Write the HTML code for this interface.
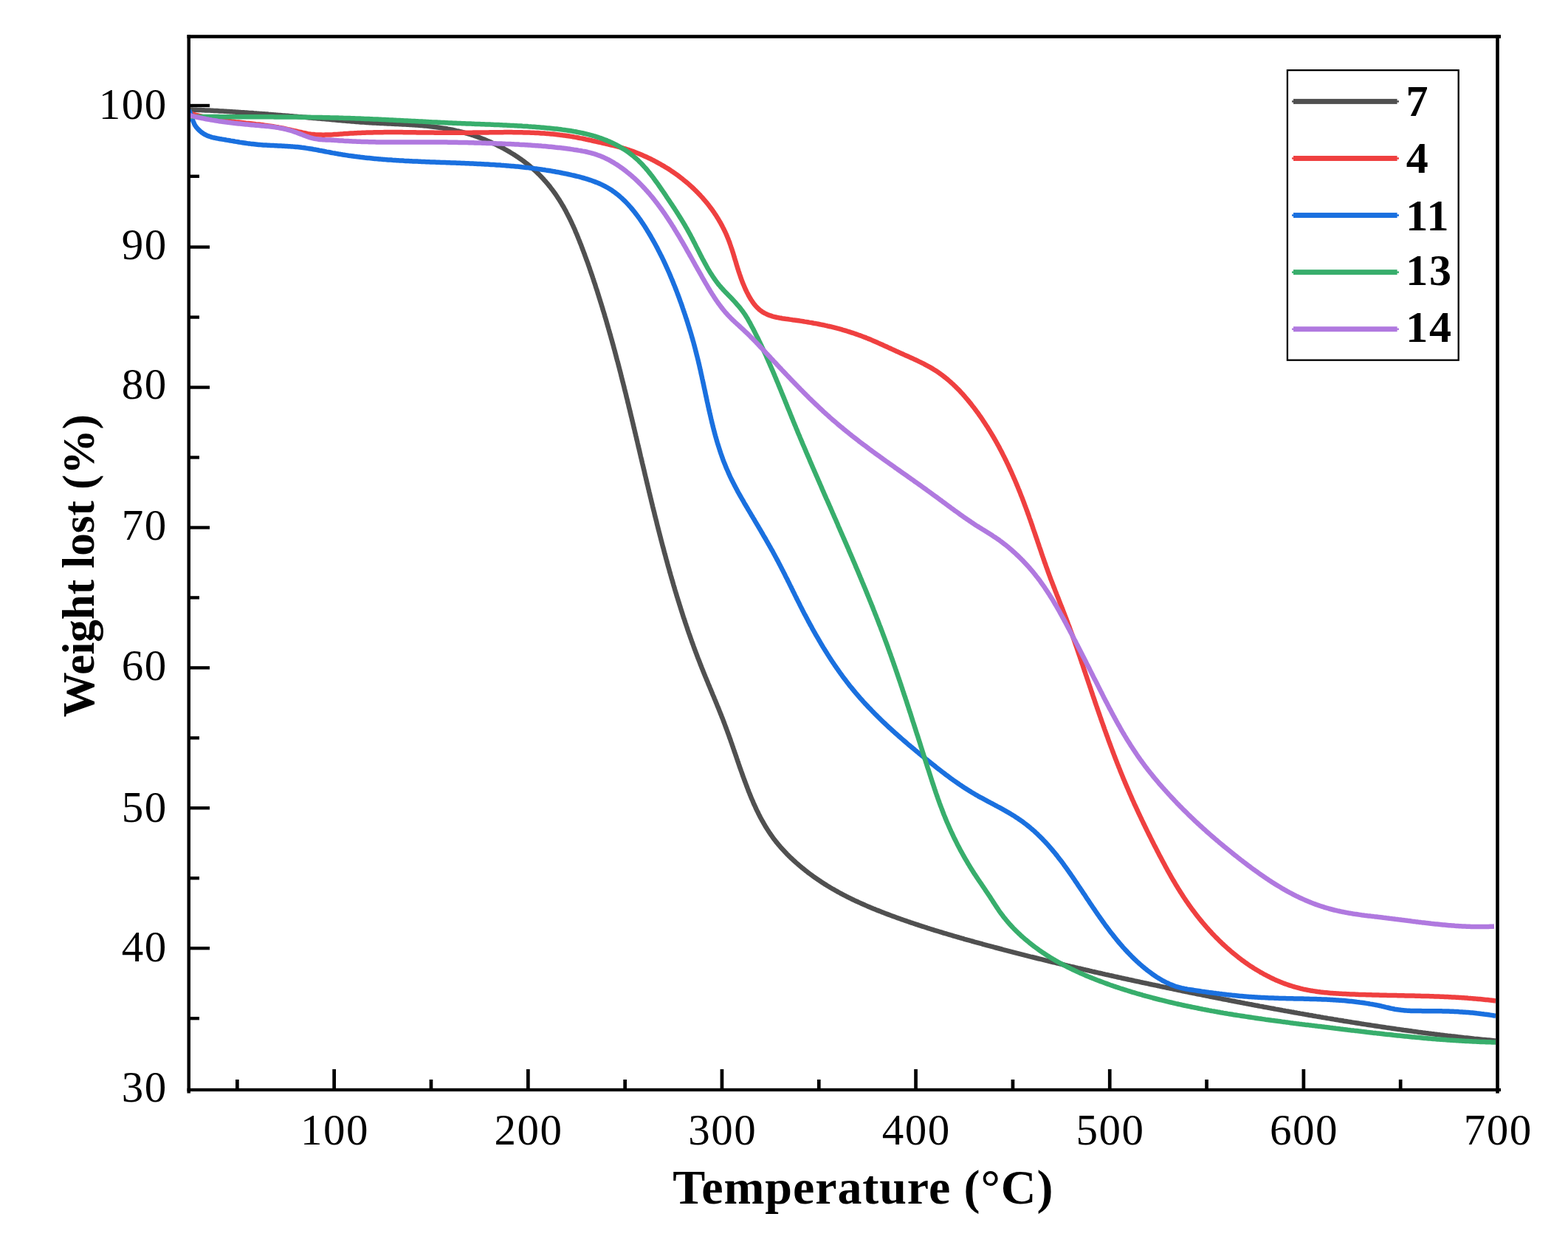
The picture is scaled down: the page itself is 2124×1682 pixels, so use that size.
<!DOCTYPE html>
<html><head><meta charset="utf-8"><title>TGA</title>
<style>
html,body{margin:0;padding:0;background:#fff;}
body{width:2124px;height:1682px;overflow:hidden;}
svg{display:block;}
text{font-family:"Liberation Serif","Times New Roman",serif;font-size:59px;fill:#000;}
text.n{letter-spacing:1.5px;}
text.b{font-weight:bold;font-size:60px;letter-spacing:1.6px;}
text.xt{font-weight:bold;font-size:66px;letter-spacing:0.93px;}
text.yt{font-weight:bold;font-size:61px;}
</style></head>
<body>
<svg width="2124" height="1682" viewBox="0 0 2124 1682">
<rect width="2124" height="1682" fill="#fff"/>
<defs><clipPath id="pa"><rect x="256" y="40" width="1800" height="1450"/></clipPath></defs>
<g fill="none" stroke-width="6.5" stroke-linejoin="round" stroke-linecap="butt" clip-path="url(#pa)">
<path d="M256.0,148.5 L258.0,148.6 L260.0,148.6 L262.0,148.7 L264.0,148.8 L266.0,148.8 L268.1,148.9 L270.1,149.0 L272.1,149.1 L274.1,149.2 L276.1,149.3 L278.1,149.4 L280.1,149.4 L282.1,149.5 L284.1,149.6 L286.1,149.7 L288.1,149.8 L290.1,149.9 L292.1,150.0 L294.1,150.1 L296.1,150.2 L298.1,150.4 L300.1,150.5 L302.1,150.6 L304.1,150.7 L306.1,150.8 L308.1,150.9 L310.1,151.0 L312.1,151.2 L314.1,151.3 L316.0,151.4 L318.0,151.5 L320.0,151.7 L322.0,151.8 L324.0,151.9 L326.0,152.1 L328.0,152.2 L330.0,152.3 L331.9,152.5 L333.9,152.6 L335.9,152.7 L337.9,152.9 L339.9,153.0 L341.9,153.1 L343.8,153.3 L345.8,153.4 L347.8,153.6 L349.8,153.7 L351.8,153.9 L353.8,154.0 L355.7,154.2 L357.7,154.3 L359.7,154.5 L361.7,154.6 L363.7,154.8 L365.6,154.9 L367.6,155.1 L369.6,155.2 L371.6,155.4 L373.6,155.6 L375.5,155.7 L377.5,155.9 L379.5,156.0 L381.5,156.2 L383.4,156.4 L385.4,156.5 L387.4,156.7 L389.4,156.8 L391.4,157.0 L393.3,157.2 L395.3,157.3 L397.3,157.5 L399.3,157.7 L401.3,157.8 L403.2,158.0 L405.2,158.2 L407.2,158.3 L409.2,158.5 L411.2,158.7 L413.1,158.8 L415.1,159.0 L417.1,159.2 L419.1,159.4 L421.1,159.5 L423.0,159.7 L425.0,159.9 L427.0,160.0 L429.0,160.2 L431.0,160.4 L433.0,160.6 L434.9,160.7 L436.9,160.9 L438.9,161.1 L440.9,161.3 L442.9,161.4 L444.9,161.6 L446.9,161.8 L448.9,162.0 L450.8,162.2 L452.8,162.3 L454.8,162.5 L456.8,162.7 L458.8,162.9 L460.8,163.0 L462.8,163.2 L464.8,163.4 L466.8,163.6 L468.8,163.7 L470.8,163.9 L472.8,164.1 L474.8,164.2 L476.8,164.4 L478.8,164.6 L480.8,164.7 L482.8,164.9 L484.8,165.1 L486.8,165.2 L488.8,165.4 L490.8,165.5 L492.8,165.6 L494.8,165.8 L496.8,165.9 L498.8,166.0 L500.8,166.2 L502.8,166.3 L504.8,166.4 L506.9,166.5 L508.9,166.6 L510.9,166.7 L512.9,166.8 L514.9,166.9 L516.9,167.0 L519.0,167.1 L521.0,167.2 L523.0,167.3 L525.0,167.4 L527.0,167.5 L529.0,167.6 L531.1,167.7 L533.1,167.8 L535.1,167.9 L537.1,168.0 L539.1,168.1 L541.2,168.2 L543.2,168.3 L545.2,168.4 L547.2,168.5 L549.2,168.6 L551.2,168.7 L553.2,168.8 L555.2,168.9 L557.3,169.1 L559.3,169.2 L561.3,169.3 L563.3,169.5 L565.3,169.6 L567.3,169.8 L569.3,169.9 L571.3,170.1 L573.3,170.3 L575.3,170.5 L577.3,170.6 L579.3,170.8 L581.2,171.0 L583.2,171.3 L585.2,171.5 L587.2,171.7 L589.2,172.0 L591.2,172.2 L593.1,172.5 L595.1,172.8 L597.1,173.1 L599.0,173.4 L601.0,173.7 L603.0,174.0 L604.9,174.3 L606.9,174.7 L608.8,175.0 L610.8,175.4 L612.7,175.8 L614.6,176.2 L616.6,176.6 L618.5,177.1 L620.4,177.5 L622.4,178.0 L624.3,178.4 L626.2,178.9 L628.1,179.4 L630.0,180.0 L631.9,180.5 L633.8,181.1 L635.7,181.6 L637.6,182.2 L639.5,182.8 L641.4,183.5 L643.3,184.1 L645.1,184.7 L647.0,185.4 L648.9,186.1 L650.7,186.8 L652.6,187.5 L654.4,188.2 L656.3,188.9 L658.1,189.7 L659.9,190.5 L661.7,191.2 L663.6,192.0 L665.4,192.8 L667.2,193.7 L669.0,194.5 L670.8,195.3 L672.6,196.2 L674.3,197.1 L676.1,198.0 L677.9,198.9 L679.7,199.8 L681.4,200.7 L683.2,201.7 L684.9,202.7 L686.6,203.6 L688.4,204.6 L690.1,205.6 L691.8,206.7 L693.5,207.7 L695.2,208.7 L696.9,209.8 L698.6,210.9 L700.2,212.0 L701.9,213.1 L703.5,214.2 L705.2,215.4 L706.8,216.5 L708.4,217.7 L710.0,218.9 L711.6,220.1 L713.2,221.3 L714.8,222.6 L716.3,223.8 L717.9,225.1 L719.4,226.4 L720.9,227.7 L722.4,229.0 L723.9,230.4 L725.4,231.7 L726.9,233.1 L728.3,234.5 L729.8,235.9 L731.2,237.4 L732.6,238.8 L734.0,240.3 L735.4,241.8 L736.8,243.3 L738.1,244.8 L739.5,246.3 L740.8,247.8 L742.1,249.4 L743.4,251.0 L744.7,252.5 L745.9,254.1 L747.1,255.7 L748.4,257.3 L749.6,259.0 L750.8,260.6 L751.9,262.2 L753.1,263.9 L754.2,265.5 L755.3,267.2 L756.4,268.9 L757.5,270.5 L758.5,272.2 L759.6,273.9 L760.6,275.6 L761.6,277.3 L762.6,279.0 L763.6,280.7 L764.6,282.5 L765.5,284.2 L766.5,285.9 L767.4,287.7 L768.3,289.4 L769.2,291.2 L770.1,292.9 L771.0,294.7 L771.9,296.5 L772.7,298.3 L773.6,300.0 L774.4,301.8 L775.2,303.6 L776.1,305.4 L776.9,307.2 L777.7,309.0 L778.5,310.8 L779.3,312.7 L780.0,314.5 L780.8,316.3 L781.6,318.1 L782.3,320.0 L783.1,321.8 L783.8,323.7 L784.6,325.5 L785.3,327.4 L786.0,329.2 L786.8,331.1 L787.5,332.9 L788.2,334.8 L788.9,336.7 L789.6,338.6 L790.3,340.4 L791.0,342.3 L791.8,344.2 L792.4,346.1 L793.1,348.0 L793.8,349.9 L794.5,351.8 L795.2,353.6 L795.9,355.5 L796.6,357.4 L797.2,359.3 L797.9,361.3 L798.6,363.2 L799.2,365.1 L799.9,367.0 L800.5,368.9 L801.2,370.8 L801.8,372.7 L802.5,374.6 L803.1,376.5 L803.8,378.5 L804.4,380.4 L805.0,382.3 L805.7,384.2 L806.3,386.1 L806.9,388.1 L807.5,390.0 L808.2,391.9 L808.8,393.8 L809.4,395.7 L810.0,397.7 L810.6,399.6 L811.2,401.5 L811.8,403.4 L812.4,405.3 L813.0,407.3 L813.6,409.2 L814.2,411.1 L814.8,413.0 L815.4,414.9 L816.0,416.9 L816.5,418.8 L817.1,420.7 L817.7,422.6 L818.3,424.5 L818.9,426.4 L819.4,428.4 L820.0,430.3 L820.6,432.2 L821.1,434.1 L821.7,436.0 L822.2,438.0 L822.8,439.9 L823.3,441.8 L823.9,443.7 L824.4,445.6 L825.0,447.6 L825.5,449.5 L826.1,451.4 L826.6,453.3 L827.2,455.2 L827.7,457.2 L828.2,459.1 L828.8,461.0 L829.3,462.9 L829.8,464.8 L830.4,466.8 L830.9,468.7 L831.4,470.6 L831.9,472.5 L832.5,474.4 L833.0,476.4 L833.5,478.3 L834.0,480.2 L834.5,482.1 L835.0,484.1 L835.5,486.0 L836.0,487.9 L836.6,489.8 L837.1,491.8 L837.6,493.7 L838.1,495.6 L838.6,497.5 L839.1,499.5 L839.6,501.4 L840.1,503.3 L840.6,505.2 L841.1,507.2 L841.5,509.1 L842.0,511.0 L842.5,512.9 L843.0,514.9 L843.5,516.8 L844.0,518.7 L844.5,520.7 L845.0,522.6 L845.5,524.5 L845.9,526.5 L846.4,528.4 L846.9,530.3 L847.4,532.3 L847.9,534.2 L848.3,536.1 L848.8,538.1 L849.3,540.0 L849.8,541.9 L850.2,543.9 L850.7,545.8 L851.2,547.7 L851.6,549.7 L852.1,551.6 L852.6,553.6 L853.1,555.5 L853.5,557.4 L854.0,559.4 L854.5,561.3 L854.9,563.3 L855.4,565.2 L855.9,567.1 L856.3,569.1 L856.8,571.0 L857.3,573.0 L857.7,574.9 L858.2,576.9 L858.6,578.8 L859.1,580.7 L859.6,582.7 L860.0,584.6 L860.5,586.6 L861.0,588.5 L861.4,590.5 L861.9,592.4 L862.3,594.4 L862.8,596.3 L863.3,598.3 L863.7,600.2 L864.2,602.2 L864.6,604.1 L865.1,606.1 L865.6,608.0 L866.0,609.9 L866.5,611.9 L866.9,613.8 L867.4,615.8 L867.8,617.7 L868.3,619.7 L868.8,621.6 L869.2,623.6 L869.7,625.5 L870.1,627.5 L870.6,629.4 L871.1,631.4 L871.5,633.3 L872.0,635.3 L872.5,637.2 L872.9,639.2 L873.4,641.1 L873.8,643.1 L874.3,645.0 L874.8,647.0 L875.2,648.9 L875.7,650.9 L876.2,652.8 L876.6,654.8 L877.1,656.7 L877.6,658.7 L878.0,660.6 L878.5,662.6 L879.0,664.5 L879.4,666.5 L879.9,668.4 L880.4,670.4 L880.8,672.3 L881.3,674.3 L881.8,676.2 L882.2,678.2 L882.7,680.1 L883.2,682.1 L883.7,684.0 L884.1,686.0 L884.6,687.9 L885.1,689.9 L885.6,691.8 L886.1,693.7 L886.5,695.7 L887.0,697.6 L887.5,699.6 L888.0,701.5 L888.5,703.5 L889.0,705.4 L889.5,707.4 L889.9,709.3 L890.4,711.3 L890.9,713.2 L891.4,715.1 L891.9,717.1 L892.4,719.0 L892.9,721.0 L893.4,722.9 L893.9,724.8 L894.4,726.8 L894.9,728.7 L895.4,730.7 L895.9,732.6 L896.4,734.5 L896.9,736.5 L897.4,738.4 L897.9,740.3 L898.5,742.3 L899.0,744.2 L899.5,746.2 L900.0,748.1 L900.5,750.0 L901.1,752.0 L901.6,753.9 L902.1,755.8 L902.6,757.7 L903.2,759.7 L903.7,761.6 L904.2,763.5 L904.7,765.5 L905.3,767.4 L905.8,769.3 L906.4,771.2 L906.9,773.2 L907.4,775.1 L908.0,777.0 L908.5,778.9 L909.1,780.9 L909.6,782.8 L910.2,784.7 L910.8,786.6 L911.3,788.6 L911.9,790.5 L912.4,792.4 L913.0,794.3 L913.6,796.2 L914.1,798.1 L914.7,800.1 L915.3,802.0 L915.9,803.9 L916.4,805.8 L917.0,807.7 L917.6,809.6 L918.2,811.5 L918.8,813.4 L919.4,815.3 L920.0,817.3 L920.6,819.2 L921.2,821.1 L921.8,823.0 L922.4,824.9 L923.0,826.8 L923.6,828.7 L924.2,830.6 L924.8,832.5 L925.4,834.4 L926.0,836.3 L926.7,838.2 L927.3,840.1 L927.9,841.9 L928.5,843.8 L929.2,845.7 L929.8,847.6 L930.5,849.5 L931.1,851.4 L931.7,853.3 L932.4,855.2 L933.0,857.1 L933.7,858.9 L934.4,860.8 L935.0,862.7 L935.7,864.6 L936.4,866.5 L937.0,868.3 L937.7,870.2 L938.4,872.1 L939.1,874.0 L939.7,875.8 L940.4,877.7 L941.1,879.6 L941.8,881.4 L942.5,883.3 L943.2,885.2 L943.9,887.0 L944.6,888.9 L945.3,890.8 L946.0,892.6 L946.8,894.5 L947.5,896.3 L948.2,898.2 L948.9,900.1 L949.7,901.9 L950.4,903.8 L951.1,905.6 L951.9,907.5 L952.6,909.3 L953.4,911.2 L954.1,913.0 L954.9,914.9 L955.6,916.7 L956.4,918.5 L957.1,920.4 L957.9,922.2 L958.7,924.1 L959.4,925.9 L960.2,927.8 L961.0,929.6 L961.7,931.4 L962.5,933.3 L963.2,935.1 L964.0,937.0 L964.8,938.8 L965.5,940.7 L966.3,942.5 L967.1,944.3 L967.8,946.2 L968.6,948.0 L969.4,949.9 L970.1,951.7 L970.9,953.6 L971.6,955.4 L972.4,957.3 L973.1,959.1 L973.9,961.0 L974.6,962.8 L975.4,964.7 L976.1,966.6 L976.9,968.4 L977.6,970.3 L978.3,972.1 L979.1,974.0 L979.8,975.9 L980.5,977.7 L981.2,979.6 L981.9,981.5 L982.6,983.4 L983.3,985.2 L984.0,987.1 L984.7,989.0 L985.4,990.9 L986.1,992.8 L986.8,994.7 L987.5,996.6 L988.1,998.5 L988.8,1000.3 L989.5,1002.2 L990.1,1004.1 L990.8,1006.0 L991.5,1007.9 L992.1,1009.8 L992.8,1011.7 L993.4,1013.6 L994.1,1015.5 L994.7,1017.4 L995.4,1019.3 L996.1,1021.3 L996.7,1023.2 L997.4,1025.1 L998.0,1027.0 L998.7,1028.9 L999.3,1030.8 L1000.0,1032.7 L1000.6,1034.6 L1001.3,1036.5 L1001.9,1038.4 L1002.6,1040.3 L1003.3,1042.2 L1003.9,1044.0 L1004.6,1045.9 L1005.3,1047.8 L1005.9,1049.7 L1006.6,1051.6 L1007.3,1053.5 L1008.0,1055.4 L1008.7,1057.2 L1009.4,1059.1 L1010.1,1061.0 L1010.8,1062.9 L1011.5,1064.7 L1012.2,1066.6 L1012.9,1068.5 L1013.6,1070.3 L1014.3,1072.2 L1015.1,1074.0 L1015.8,1075.9 L1016.6,1077.7 L1017.3,1079.5 L1018.1,1081.4 L1018.9,1083.2 L1019.7,1085.0 L1020.4,1086.8 L1021.2,1088.7 L1022.1,1090.5 L1022.9,1092.3 L1023.7,1094.1 L1024.5,1095.9 L1025.4,1097.7 L1026.3,1099.4 L1027.1,1101.2 L1028.0,1103.0 L1028.9,1104.7 L1029.8,1106.5 L1030.7,1108.2 L1031.7,1110.0 L1032.6,1111.7 L1033.6,1113.4 L1034.6,1115.2 L1035.6,1116.9 L1036.6,1118.6 L1037.6,1120.3 L1038.7,1122.0 L1039.7,1123.6 L1040.8,1125.3 L1041.9,1127.0 L1043.0,1128.6 L1044.1,1130.3 L1045.3,1131.9 L1046.4,1133.5 L1047.6,1135.2 L1048.8,1136.8 L1050.1,1138.4 L1051.3,1140.0 L1052.6,1141.5 L1053.9,1143.1 L1055.2,1144.7 L1056.5,1146.2 L1057.8,1147.8 L1059.2,1149.3 L1060.6,1150.8 L1062.0,1152.3 L1063.4,1153.8 L1064.8,1155.3 L1066.2,1156.8 L1067.7,1158.2 L1069.1,1159.7 L1070.6,1161.1 L1072.1,1162.5 L1073.6,1163.9 L1075.1,1165.3 L1076.7,1166.7 L1078.2,1168.1 L1079.7,1169.4 L1081.3,1170.8 L1082.8,1172.1 L1084.4,1173.4 L1086.0,1174.8 L1087.6,1176.0 L1089.1,1177.3 L1090.7,1178.6 L1092.3,1179.8 L1093.9,1181.1 L1095.5,1182.3 L1097.1,1183.5 L1098.7,1184.7 L1100.4,1185.9 L1102.0,1187.1 L1103.6,1188.2 L1105.3,1189.4 L1106.9,1190.5 L1108.5,1191.6 L1110.2,1192.7 L1111.8,1193.8 L1113.5,1194.9 L1115.2,1196.0 L1116.8,1197.1 L1118.5,1198.1 L1120.2,1199.2 L1121.9,1200.2 L1123.6,1201.2 L1125.2,1202.2 L1126.9,1203.2 L1128.6,1204.2 L1130.4,1205.2 L1132.1,1206.2 L1133.8,1207.1 L1135.5,1208.1 L1137.2,1209.0 L1138.9,1210.0 L1140.7,1210.9 L1142.4,1211.8 L1144.1,1212.7 L1145.9,1213.6 L1147.6,1214.5 L1149.4,1215.4 L1151.1,1216.2 L1152.9,1217.1 L1154.7,1218.0 L1156.4,1218.8 L1158.2,1219.7 L1160.0,1220.5 L1161.8,1221.3 L1163.5,1222.1 L1165.3,1222.9 L1167.1,1223.7 L1168.9,1224.5 L1170.7,1225.3 L1172.5,1226.1 L1174.3,1226.9 L1176.1,1227.7 L1177.9,1228.4 L1179.7,1229.2 L1181.5,1229.9 L1183.4,1230.7 L1185.2,1231.4 L1187.0,1232.2 L1188.8,1232.9 L1190.7,1233.6 L1192.5,1234.3 L1194.3,1235.1 L1196.2,1235.8 L1198.0,1236.5 L1199.9,1237.2 L1201.7,1237.9 L1203.6,1238.6 L1205.4,1239.3 L1207.3,1240.0 L1209.1,1240.7 L1211.0,1241.3 L1212.9,1242.0 L1214.7,1242.7 L1216.6,1243.4 L1218.5,1244.0 L1220.4,1244.7 L1222.2,1245.4 L1224.1,1246.0 L1226.0,1246.7 L1227.9,1247.3 L1229.8,1248.0 L1231.7,1248.6 L1233.5,1249.3 L1235.4,1249.9 L1237.3,1250.5 L1239.2,1251.2 L1241.1,1251.8 L1243.0,1252.4 L1244.9,1253.1 L1246.8,1253.7 L1248.7,1254.3 L1250.6,1254.9 L1252.6,1255.5 L1254.5,1256.1 L1256.4,1256.8 L1258.3,1257.4 L1260.2,1258.0 L1262.1,1258.6 L1264.0,1259.2 L1266.0,1259.8 L1267.9,1260.4 L1269.8,1260.9 L1271.7,1261.5 L1273.7,1262.1 L1275.6,1262.7 L1277.5,1263.3 L1279.4,1263.9 L1281.4,1264.4 L1283.3,1265.0 L1285.2,1265.6 L1287.2,1266.2 L1289.1,1266.7 L1291.0,1267.3 L1293.0,1267.9 L1294.9,1268.4 L1296.8,1269.0 L1298.8,1269.5 L1300.7,1270.1 L1302.7,1270.7 L1304.6,1271.2 L1306.5,1271.8 L1308.5,1272.3 L1310.4,1272.9 L1312.4,1273.4 L1314.3,1273.9 L1316.3,1274.5 L1318.2,1275.0 L1320.1,1275.6 L1322.1,1276.1 L1324.0,1276.6 L1326.0,1277.2 L1327.9,1277.7 L1329.9,1278.2 L1331.8,1278.8 L1333.8,1279.3 L1335.7,1279.8 L1337.6,1280.4 L1339.6,1280.9 L1341.5,1281.4 L1343.5,1281.9 L1345.4,1282.4 L1347.4,1283.0 L1349.3,1283.5 L1351.3,1284.0 L1353.2,1284.5 L1355.1,1285.0 L1357.1,1285.5 L1359.0,1286.1 L1361.0,1286.6 L1362.9,1287.1 L1364.9,1287.6 L1366.8,1288.1 L1368.8,1288.6 L1370.7,1289.1 L1372.6,1289.6 L1374.6,1290.1 L1376.5,1290.6 L1378.5,1291.1 L1380.4,1291.6 L1382.4,1292.1 L1384.3,1292.6 L1386.3,1293.1 L1388.2,1293.6 L1390.2,1294.1 L1392.1,1294.6 L1394.0,1295.1 L1396.0,1295.6 L1397.9,1296.0 L1399.9,1296.5 L1401.8,1297.0 L1403.8,1297.5 L1405.7,1298.0 L1407.7,1298.5 L1409.6,1298.9 L1411.6,1299.4 L1413.5,1299.9 L1415.4,1300.4 L1417.4,1300.9 L1419.3,1301.3 L1421.3,1301.8 L1423.2,1302.3 L1425.2,1302.8 L1427.1,1303.2 L1429.1,1303.7 L1431.0,1304.2 L1433.0,1304.6 L1434.9,1305.1 L1436.9,1305.6 L1438.8,1306.0 L1440.8,1306.5 L1442.7,1307.0 L1444.6,1307.4 L1446.6,1307.9 L1448.5,1308.3 L1450.5,1308.8 L1452.4,1309.3 L1454.4,1309.7 L1456.3,1310.2 L1458.3,1310.6 L1460.2,1311.1 L1462.2,1311.5 L1464.1,1312.0 L1466.1,1312.4 L1468.0,1312.9 L1470.0,1313.3 L1471.9,1313.8 L1473.9,1314.2 L1475.8,1314.7 L1477.8,1315.1 L1479.7,1315.6 L1481.6,1316.0 L1483.6,1316.5 L1485.5,1316.9 L1487.5,1317.4 L1489.4,1317.8 L1491.4,1318.2 L1493.3,1318.7 L1495.3,1319.1 L1497.2,1319.6 L1499.2,1320.0 L1501.1,1320.4 L1503.1,1320.9 L1505.0,1321.3 L1507.0,1321.7 L1508.9,1322.2 L1510.9,1322.6 L1512.8,1323.0 L1514.8,1323.5 L1516.7,1323.9 L1518.7,1324.3 L1520.6,1324.8 L1522.6,1325.2 L1524.5,1325.6 L1526.5,1326.0 L1528.4,1326.5 L1530.4,1326.9 L1532.3,1327.3 L1534.3,1327.7 L1536.2,1328.2 L1538.2,1328.6 L1540.1,1329.0 L1542.1,1329.4 L1544.0,1329.8 L1546.0,1330.3 L1547.9,1330.7 L1549.9,1331.1 L1551.8,1331.5 L1553.8,1331.9 L1555.7,1332.3 L1557.7,1332.8 L1559.6,1333.2 L1561.6,1333.6 L1563.6,1334.0 L1565.5,1334.4 L1567.5,1334.8 L1569.4,1335.2 L1571.4,1335.7 L1573.3,1336.1 L1575.3,1336.5 L1577.2,1336.9 L1579.2,1337.3 L1581.1,1337.7 L1583.1,1338.1 L1585.0,1338.5 L1587.0,1338.9 L1588.9,1339.3 L1590.9,1339.7 L1592.8,1340.1 L1594.8,1340.6 L1596.8,1341.0 L1598.7,1341.4 L1600.7,1341.8 L1602.6,1342.2 L1604.6,1342.6 L1606.5,1343.0 L1608.5,1343.4 L1610.4,1343.8 L1612.4,1344.2 L1614.3,1344.6 L1616.3,1345.0 L1618.3,1345.4 L1620.2,1345.8 L1622.2,1346.2 L1624.1,1346.5 L1626.1,1346.9 L1628.0,1347.3 L1630.0,1347.7 L1631.9,1348.1 L1633.9,1348.5 L1635.9,1348.9 L1637.8,1349.3 L1639.8,1349.7 L1641.7,1350.1 L1643.7,1350.5 L1645.6,1350.8 L1647.6,1351.2 L1649.6,1351.6 L1651.5,1352.0 L1653.5,1352.4 L1655.4,1352.8 L1657.4,1353.2 L1659.3,1353.5 L1661.3,1353.9 L1663.3,1354.3 L1665.2,1354.7 L1667.2,1355.1 L1669.1,1355.5 L1671.1,1355.8 L1673.1,1356.2 L1675.0,1356.6 L1677.0,1357.0 L1678.9,1357.3 L1680.9,1357.7 L1682.9,1358.1 L1684.8,1358.5 L1686.8,1358.9 L1688.7,1359.2 L1690.7,1359.6 L1692.7,1360.0 L1694.6,1360.3 L1696.6,1360.7 L1698.5,1361.1 L1700.5,1361.5 L1702.5,1361.8 L1704.4,1362.2 L1706.4,1362.6 L1708.3,1362.9 L1710.3,1363.3 L1712.3,1363.7 L1714.2,1364.0 L1716.2,1364.4 L1718.2,1364.8 L1720.1,1365.1 L1722.1,1365.5 L1724.1,1365.8 L1726.0,1366.2 L1728.0,1366.6 L1729.9,1366.9 L1731.9,1367.3 L1733.9,1367.6 L1735.8,1368.0 L1737.8,1368.4 L1739.8,1368.7 L1741.7,1369.1 L1743.7,1369.4 L1745.7,1369.8 L1747.6,1370.1 L1749.6,1370.5 L1751.6,1370.8 L1753.5,1371.2 L1755.5,1371.5 L1757.5,1371.9 L1759.4,1372.2 L1761.4,1372.6 L1763.4,1372.9 L1765.3,1373.3 L1767.3,1373.6 L1769.3,1374.0 L1771.2,1374.3 L1773.2,1374.7 L1775.2,1375.0 L1777.1,1375.3 L1779.1,1375.7 L1781.1,1376.0 L1783.0,1376.4 L1785.0,1376.7 L1787.0,1377.0 L1788.9,1377.4 L1790.9,1377.7 L1792.9,1378.1 L1794.8,1378.4 L1796.8,1378.7 L1798.8,1379.1 L1800.8,1379.4 L1802.7,1379.7 L1804.7,1380.0 L1806.7,1380.4 L1808.6,1380.7 L1810.6,1381.0 L1812.6,1381.4 L1814.6,1381.7 L1816.5,1382.0 L1818.5,1382.3 L1820.5,1382.7 L1822.4,1383.0 L1824.4,1383.3 L1826.4,1383.6 L1828.4,1383.9 L1830.3,1384.3 L1832.3,1384.6 L1834.3,1384.9 L1836.3,1385.2 L1838.2,1385.5 L1840.2,1385.8 L1842.2,1386.1 L1844.2,1386.5 L1846.1,1386.8 L1848.1,1387.1 L1850.1,1387.4 L1852.1,1387.7 L1854.0,1388.0 L1856.0,1388.3 L1858.0,1388.6 L1860.0,1388.9 L1861.9,1389.2 L1863.9,1389.5 L1865.9,1389.8 L1867.9,1390.1 L1869.8,1390.4 L1871.8,1390.7 L1873.8,1391.0 L1875.8,1391.3 L1877.8,1391.6 L1879.7,1391.9 L1881.7,1392.1 L1883.7,1392.4 L1885.7,1392.7 L1887.7,1393.0 L1889.6,1393.3 L1891.6,1393.6 L1893.6,1393.9 L1895.6,1394.1 L1897.6,1394.4 L1899.5,1394.7 L1901.5,1395.0 L1903.5,1395.2 L1905.5,1395.5 L1907.5,1395.8 L1909.4,1396.1 L1911.4,1396.3 L1913.4,1396.6 L1915.4,1396.9 L1917.4,1397.1 L1919.4,1397.4 L1921.3,1397.7 L1923.3,1397.9 L1925.3,1398.2 L1927.3,1398.5 L1929.3,1398.7 L1931.3,1399.0 L1933.3,1399.2 L1935.2,1399.5 L1937.2,1399.7 L1939.2,1400.0 L1941.2,1400.2 L1943.2,1400.5 L1945.2,1400.7 L1947.2,1401.0 L1949.1,1401.2 L1951.1,1401.5 L1953.1,1401.7 L1955.1,1401.9 L1957.1,1402.2 L1959.1,1402.4 L1961.1,1402.7 L1963.1,1402.9 L1965.1,1403.1 L1967.0,1403.4 L1969.0,1403.6 L1971.0,1403.8 L1973.0,1404.0 L1975.0,1404.3 L1977.0,1404.5 L1979.0,1404.7 L1981.0,1404.9 L1983.0,1405.2 L1985.0,1405.4 L1986.9,1405.6 L1988.9,1405.8 L1990.9,1406.0 L1992.9,1406.2 L1994.9,1406.4 L1996.9,1406.7 L1998.9,1406.9 L2000.9,1407.1 L2002.9,1407.3 L2004.9,1407.5 L2006.9,1407.7 L2008.9,1407.9 L2010.9,1408.1 L2012.9,1408.3 L2014.9,1408.5 L2016.9,1408.6 L2018.9,1408.8 L2020.9,1409.0 L2022.9,1409.2 L2024.8,1409.4 L2026.0,1409.5" stroke="#505050"/>
<path d="M256.0,153.0 L258.0,153.6 L260.0,154.2 L262.0,154.8 L263.9,155.3 L265.9,155.9 L267.9,156.4 L269.9,156.9 L271.9,157.4 L273.9,157.9 L275.9,158.3 L277.9,158.8 L279.8,159.2 L281.8,159.6 L283.8,160.0 L285.8,160.4 L287.8,160.7 L289.7,161.1 L291.7,161.4 L293.7,161.7 L295.7,162.1 L297.6,162.4 L299.6,162.6 L301.6,162.9 L303.5,163.2 L305.5,163.5 L307.5,163.7 L309.4,164.0 L311.4,164.2 L313.4,164.5 L315.3,164.7 L317.3,164.9 L319.2,165.2 L321.2,165.4 L323.2,165.6 L325.1,165.8 L327.1,166.0 L329.0,166.2 L331.0,166.4 L333.0,166.7 L334.9,166.9 L336.9,167.1 L338.8,167.3 L340.8,167.5 L342.7,167.7 L344.7,167.9 L346.6,168.2 L348.6,168.4 L350.6,168.6 L352.5,168.8 L354.5,169.1 L356.4,169.3 L358.4,169.6 L360.3,169.9 L362.3,170.1 L364.2,170.4 L366.2,170.7 L368.1,171.0 L370.1,171.3 L372.0,171.6 L374.0,172.0 L376.0,172.3 L377.9,172.7 L379.9,173.0 L381.8,173.4 L383.8,173.8 L385.7,174.2 L387.7,174.6 L389.7,175.1 L391.6,175.5 L393.6,175.9 L395.5,176.4 L397.5,176.8 L399.4,177.3 L401.4,177.7 L403.4,178.2 L405.3,178.6 L407.3,179.0 L409.3,179.5 L411.2,179.9 L413.2,180.3 L415.2,180.7 L417.1,181.1 L419.1,181.4 L421.1,181.7 L423.0,181.9 L425.0,182.1 L427.0,182.3 L429.0,182.4 L430.9,182.5 L432.9,182.6 L434.9,182.6 L436.9,182.7 L438.8,182.7 L440.8,182.6 L442.8,182.6 L444.8,182.5 L446.8,182.5 L448.8,182.4 L450.7,182.3 L452.7,182.1 L454.7,182.0 L456.7,181.9 L458.7,181.7 L460.7,181.6 L462.7,181.4 L464.7,181.3 L466.6,181.1 L468.6,181.0 L470.6,180.9 L472.6,180.7 L474.6,180.6 L476.6,180.5 L478.6,180.4 L480.6,180.3 L482.6,180.2 L484.6,180.1 L486.6,180.0 L488.6,179.9 L490.6,179.8 L492.6,179.7 L494.6,179.7 L496.6,179.6 L498.6,179.5 L500.6,179.5 L502.6,179.4 L504.6,179.4 L506.6,179.3 L508.6,179.3 L510.6,179.3 L512.6,179.2 L514.6,179.2 L516.6,179.2 L518.6,179.2 L520.6,179.1 L522.6,179.1 L524.6,179.1 L526.6,179.1 L528.6,179.1 L530.7,179.1 L532.7,179.1 L534.7,179.1 L536.7,179.1 L538.7,179.1 L540.7,179.1 L542.7,179.1 L544.7,179.1 L546.7,179.2 L548.7,179.2 L550.7,179.2 L552.8,179.2 L554.8,179.2 L556.8,179.3 L558.8,179.3 L560.8,179.3 L562.8,179.3 L564.8,179.4 L566.8,179.4 L568.8,179.4 L570.9,179.4 L572.9,179.5 L574.9,179.5 L576.9,179.5 L578.9,179.5 L580.9,179.6 L582.9,179.6 L584.9,179.6 L586.9,179.6 L589.0,179.7 L591.0,179.7 L593.0,179.7 L595.0,179.7 L597.0,179.7 L599.0,179.8 L601.0,179.8 L603.0,179.8 L605.0,179.8 L607.1,179.8 L609.1,179.8 L611.1,179.8 L613.1,179.8 L615.1,179.8 L617.1,179.8 L619.1,179.8 L621.1,179.8 L623.1,179.8 L625.1,179.8 L627.2,179.8 L629.2,179.8 L631.2,179.8 L633.2,179.7 L635.2,179.7 L637.2,179.7 L639.2,179.7 L641.2,179.6 L643.2,179.6 L645.2,179.6 L647.2,179.6 L649.2,179.5 L651.2,179.5 L653.2,179.5 L655.2,179.4 L657.2,179.4 L659.2,179.4 L661.3,179.4 L663.3,179.3 L665.3,179.3 L667.3,179.3 L669.3,179.3 L671.3,179.2 L673.3,179.2 L675.3,179.2 L677.3,179.2 L679.2,179.2 L681.2,179.2 L683.2,179.1 L685.2,179.1 L687.2,179.1 L689.2,179.1 L691.2,179.1 L693.2,179.1 L695.2,179.2 L697.2,179.2 L699.2,179.2 L701.2,179.2 L703.2,179.2 L705.2,179.3 L707.1,179.3 L709.1,179.4 L711.1,179.4 L713.1,179.5 L715.1,179.5 L717.1,179.6 L719.1,179.7 L721.0,179.7 L723.0,179.8 L725.0,179.9 L727.0,180.0 L729.0,180.1 L730.9,180.2 L732.9,180.4 L734.9,180.5 L736.9,180.6 L738.8,180.8 L740.8,180.9 L742.8,181.1 L744.7,181.2 L746.7,181.4 L748.7,181.6 L750.7,181.8 L752.6,182.0 L754.6,182.2 L756.5,182.4 L758.5,182.7 L760.5,182.9 L762.4,183.2 L764.4,183.4 L766.4,183.7 L768.3,184.0 L770.3,184.3 L772.2,184.6 L774.2,184.9 L776.1,185.2 L778.1,185.6 L780.0,185.9 L782.0,186.3 L783.9,186.7 L785.9,187.1 L787.8,187.4 L789.8,187.8 L791.7,188.2 L793.6,188.7 L795.6,189.1 L797.5,189.5 L799.5,189.9 L801.4,190.3 L803.3,190.8 L805.3,191.2 L807.2,191.6 L809.1,192.1 L811.1,192.5 L813.0,192.9 L814.9,193.3 L816.8,193.8 L818.8,194.2 L820.7,194.7 L822.6,195.1 L824.5,195.5 L826.4,196.0 L828.4,196.5 L830.3,196.9 L832.2,197.4 L834.1,197.9 L836.0,198.4 L837.9,198.9 L839.8,199.4 L841.7,200.0 L843.6,200.5 L845.5,201.1 L847.4,201.7 L849.3,202.3 L851.2,202.9 L853.1,203.6 L855.0,204.2 L856.9,204.9 L858.8,205.6 L860.6,206.3 L862.5,207.0 L864.4,207.7 L866.3,208.5 L868.1,209.3 L870.0,210.1 L871.9,210.9 L873.7,211.7 L875.6,212.5 L877.4,213.4 L879.2,214.3 L881.1,215.1 L882.9,216.0 L884.7,217.0 L886.5,217.9 L888.3,218.8 L890.1,219.8 L891.9,220.8 L893.7,221.8 L895.4,222.8 L897.2,223.8 L899.0,224.8 L900.7,225.9 L902.5,227.0 L904.2,228.0 L905.9,229.1 L907.6,230.2 L909.3,231.4 L911.0,232.5 L912.7,233.7 L914.4,234.8 L916.0,236.0 L917.7,237.2 L919.3,238.4 L920.9,239.6 L922.5,240.9 L924.2,242.1 L925.7,243.4 L927.3,244.7 L928.9,246.0 L930.4,247.3 L932.0,248.6 L933.5,249.9 L935.0,251.3 L936.5,252.6 L938.0,254.0 L939.5,255.4 L940.9,256.8 L942.4,258.2 L943.8,259.6 L945.2,261.0 L946.6,262.5 L948.0,263.9 L949.3,265.4 L950.7,266.9 L952.0,268.3 L953.3,269.9 L954.6,271.4 L955.9,272.9 L957.2,274.4 L958.5,276.0 L959.7,277.5 L960.9,279.1 L962.1,280.7 L963.3,282.3 L964.5,283.9 L965.6,285.5 L966.8,287.1 L967.9,288.8 L969.0,290.4 L970.1,292.1 L971.1,293.7 L972.2,295.4 L973.2,297.1 L974.2,298.8 L975.2,300.5 L976.2,302.2 L977.1,304.0 L978.1,305.7 L979.0,307.5 L979.9,309.2 L980.8,311.0 L981.6,312.8 L982.5,314.5 L983.3,316.3 L984.1,318.1 L984.9,320.0 L985.6,321.8 L986.4,323.6 L987.1,325.5 L987.8,327.3 L988.5,329.2 L989.1,331.0 L989.8,332.9 L990.4,334.8 L991.1,336.7 L991.7,338.5 L992.3,340.4 L992.9,342.3 L993.5,344.2 L994.1,346.2 L994.6,348.1 L995.2,350.0 L995.8,351.9 L996.4,353.8 L997.0,355.7 L997.5,357.7 L998.1,359.6 L998.7,361.5 L999.3,363.4 L999.9,365.3 L1000.5,367.3 L1001.2,369.2 L1001.8,371.1 L1002.5,373.0 L1003.1,374.9 L1003.8,376.9 L1004.5,378.8 L1005.2,380.7 L1005.9,382.6 L1006.7,384.5 L1007.5,386.3 L1008.3,388.2 L1009.1,390.1 L1009.9,392.0 L1010.8,393.8 L1011.7,395.7 L1012.7,397.6 L1013.6,399.4 L1014.6,401.2 L1015.7,403.0 L1016.7,404.8 L1017.8,406.5 L1019.0,408.2 L1020.1,409.9 L1021.3,411.5 L1022.6,413.1 L1023.9,414.6 L1025.2,416.0 L1026.6,417.4 L1028.0,418.7 L1029.5,420.0 L1031.0,421.1 L1032.5,422.2 L1034.1,423.2 L1035.7,424.1 L1037.4,424.9 L1039.1,425.7 L1040.8,426.4 L1042.6,427.1 L1044.4,427.7 L1046.2,428.3 L1048.1,428.8 L1049.9,429.3 L1051.8,429.7 L1053.8,430.1 L1055.7,430.5 L1057.7,430.8 L1059.6,431.2 L1061.6,431.5 L1063.6,431.8 L1065.6,432.1 L1067.7,432.3 L1069.7,432.6 L1071.7,432.9 L1073.8,433.2 L1075.8,433.4 L1077.8,433.7 L1079.9,434.0 L1081.9,434.3 L1084.0,434.6 L1086.0,434.9 L1088.0,435.2 L1090.1,435.6 L1092.1,435.9 L1094.2,436.2 L1096.2,436.6 L1098.2,436.9 L1100.3,437.3 L1102.3,437.7 L1104.3,438.0 L1106.4,438.4 L1108.4,438.8 L1110.4,439.2 L1112.4,439.6 L1114.4,440.0 L1116.4,440.4 L1118.4,440.9 L1120.4,441.3 L1122.4,441.8 L1124.4,442.2 L1126.4,442.7 L1128.3,443.2 L1130.3,443.7 L1132.2,444.2 L1134.2,444.7 L1136.1,445.2 L1138.0,445.7 L1139.9,446.2 L1141.9,446.8 L1143.8,447.3 L1145.7,447.9 L1147.6,448.5 L1149.4,449.1 L1151.3,449.7 L1153.2,450.3 L1155.1,450.9 L1157.0,451.5 L1158.8,452.2 L1160.7,452.8 L1162.5,453.5 L1164.4,454.1 L1166.2,454.8 L1168.1,455.5 L1169.9,456.2 L1171.8,456.9 L1173.6,457.6 L1175.4,458.4 L1177.3,459.1 L1179.1,459.8 L1180.9,460.6 L1182.8,461.4 L1184.6,462.2 L1186.4,463.0 L1188.2,463.8 L1190.0,464.6 L1191.9,465.4 L1193.7,466.2 L1195.5,467.0 L1197.3,467.9 L1199.2,468.7 L1201.0,469.5 L1202.8,470.4 L1204.6,471.2 L1206.4,472.0 L1208.3,472.9 L1210.1,473.7 L1211.9,474.6 L1213.8,475.4 L1215.6,476.2 L1217.4,477.1 L1219.3,477.9 L1221.1,478.7 L1222.9,479.5 L1224.8,480.4 L1226.6,481.2 L1228.5,482.0 L1230.3,482.8 L1232.1,483.6 L1234.0,484.5 L1235.8,485.3 L1237.6,486.1 L1239.5,487.0 L1241.3,487.8 L1243.1,488.7 L1244.9,489.6 L1246.7,490.4 L1248.5,491.3 L1250.3,492.2 L1252.1,493.1 L1253.8,494.1 L1255.6,495.0 L1257.3,496.0 L1259.1,496.9 L1260.8,497.9 L1262.5,498.9 L1264.2,499.9 L1265.9,501.0 L1267.6,502.1 L1269.2,503.1 L1270.9,504.2 L1272.5,505.4 L1274.1,506.5 L1275.7,507.7 L1277.3,508.9 L1278.9,510.1 L1280.5,511.3 L1282.0,512.6 L1283.5,513.8 L1285.0,515.1 L1286.5,516.4 L1288.0,517.7 L1289.5,519.1 L1291.0,520.4 L1292.4,521.8 L1293.9,523.2 L1295.3,524.6 L1296.7,526.0 L1298.1,527.4 L1299.5,528.8 L1300.9,530.3 L1302.2,531.8 L1303.6,533.2 L1304.9,534.7 L1306.3,536.2 L1307.6,537.8 L1308.9,539.3 L1310.2,540.8 L1311.5,542.4 L1312.7,543.9 L1314.0,545.5 L1315.3,547.0 L1316.5,548.6 L1317.7,550.2 L1319.0,551.8 L1320.2,553.4 L1321.4,555.0 L1322.6,556.6 L1323.8,558.2 L1325.0,559.8 L1326.1,561.5 L1327.3,563.1 L1328.4,564.7 L1329.6,566.4 L1330.7,568.0 L1331.8,569.7 L1332.9,571.4 L1334.0,573.0 L1335.1,574.7 L1336.2,576.4 L1337.3,578.1 L1338.4,579.8 L1339.4,581.5 L1340.5,583.2 L1341.5,584.9 L1342.6,586.6 L1343.6,588.3 L1344.6,590.0 L1345.6,591.7 L1346.6,593.5 L1347.6,595.2 L1348.6,596.9 L1349.6,598.7 L1350.6,600.4 L1351.5,602.2 L1352.5,603.9 L1353.5,605.7 L1354.4,607.5 L1355.3,609.2 L1356.3,611.0 L1357.2,612.8 L1358.1,614.6 L1359.0,616.4 L1359.9,618.1 L1360.8,619.9 L1361.7,621.7 L1362.6,623.5 L1363.4,625.3 L1364.3,627.1 L1365.2,628.9 L1366.0,630.7 L1366.9,632.6 L1367.7,634.4 L1368.5,636.2 L1369.4,638.0 L1370.2,639.8 L1371.0,641.7 L1371.8,643.5 L1372.6,645.3 L1373.4,647.2 L1374.2,649.0 L1375.0,650.8 L1375.8,652.7 L1376.6,654.5 L1377.3,656.4 L1378.1,658.2 L1378.9,660.1 L1379.6,661.9 L1380.4,663.8 L1381.1,665.6 L1381.9,667.5 L1382.6,669.4 L1383.3,671.2 L1384.1,673.1 L1384.8,674.9 L1385.5,676.8 L1386.2,678.7 L1386.9,680.5 L1387.6,682.4 L1388.3,684.3 L1389.0,686.1 L1389.7,688.0 L1390.4,689.9 L1391.1,691.7 L1391.8,693.6 L1392.4,695.5 L1393.1,697.3 L1393.8,699.2 L1394.4,701.1 L1395.1,703.0 L1395.8,704.8 L1396.4,706.7 L1397.1,708.6 L1397.7,710.5 L1398.4,712.3 L1399.0,714.2 L1399.6,716.1 L1400.3,718.0 L1400.9,719.8 L1401.6,721.7 L1402.2,723.6 L1402.8,725.5 L1403.5,727.3 L1404.1,729.2 L1404.8,731.1 L1405.4,733.0 L1406.0,734.8 L1406.7,736.7 L1407.3,738.6 L1407.9,740.5 L1408.6,742.4 L1409.2,744.2 L1409.9,746.1 L1410.5,748.0 L1411.1,749.9 L1411.8,751.8 L1412.4,753.6 L1413.1,755.5 L1413.7,757.4 L1414.4,759.3 L1415.0,761.2 L1415.7,763.0 L1416.4,764.9 L1417.0,766.8 L1417.7,768.7 L1418.4,770.6 L1419.1,772.5 L1419.7,774.3 L1420.4,776.2 L1421.1,778.1 L1421.8,780.0 L1422.5,781.9 L1423.2,783.8 L1423.9,785.6 L1424.6,787.5 L1425.4,789.4 L1426.1,791.3 L1426.8,793.2 L1427.5,795.1 L1428.3,796.9 L1429.0,798.8 L1429.7,800.7 L1430.5,802.6 L1431.2,804.5 L1431.9,806.4 L1432.7,808.2 L1433.4,810.1 L1434.2,812.0 L1434.9,813.9 L1435.6,815.8 L1436.4,817.7 L1437.1,819.6 L1437.9,821.4 L1438.6,823.3 L1439.4,825.2 L1440.1,827.1 L1440.8,829.0 L1441.6,830.9 L1442.3,832.8 L1443.0,834.6 L1443.7,836.5 L1444.5,838.4 L1445.2,840.3 L1445.9,842.2 L1446.6,844.1 L1447.3,846.0 L1448.0,847.8 L1448.7,849.7 L1449.4,851.6 L1450.1,853.5 L1450.8,855.4 L1451.5,857.3 L1452.2,859.2 L1452.9,861.0 L1453.5,862.9 L1454.2,864.8 L1454.9,866.7 L1455.5,868.6 L1456.2,870.5 L1456.8,872.4 L1457.5,874.2 L1458.1,876.1 L1458.8,878.0 L1459.4,879.9 L1460.1,881.8 L1460.7,883.7 L1461.4,885.6 L1462.0,887.4 L1462.7,889.3 L1463.3,891.2 L1463.9,893.1 L1464.6,895.0 L1465.2,896.9 L1465.8,898.7 L1466.5,900.6 L1467.1,902.5 L1467.7,904.4 L1468.4,906.3 L1469.0,908.2 L1469.7,910.0 L1470.3,911.9 L1470.9,913.8 L1471.6,915.7 L1472.2,917.6 L1472.8,919.4 L1473.5,921.3 L1474.1,923.2 L1474.7,925.1 L1475.4,927.0 L1476.0,928.8 L1476.6,930.7 L1477.3,932.6 L1477.9,934.5 L1478.5,936.4 L1479.2,938.2 L1479.8,940.1 L1480.4,942.0 L1481.1,943.9 L1481.7,945.8 L1482.4,947.6 L1483.0,949.5 L1483.6,951.4 L1484.3,953.3 L1484.9,955.1 L1485.6,957.0 L1486.2,958.9 L1486.9,960.8 L1487.5,962.6 L1488.2,964.5 L1488.8,966.4 L1489.5,968.3 L1490.1,970.1 L1490.8,972.0 L1491.4,973.9 L1492.1,975.8 L1492.7,977.6 L1493.4,979.5 L1494.1,981.4 L1494.7,983.3 L1495.4,985.1 L1496.0,987.0 L1496.7,988.9 L1497.4,990.7 L1498.1,992.6 L1498.7,994.5 L1499.4,996.3 L1500.1,998.2 L1500.8,1000.1 L1501.4,1001.9 L1502.1,1003.8 L1502.8,1005.7 L1503.5,1007.5 L1504.2,1009.4 L1504.9,1011.3 L1505.6,1013.1 L1506.3,1015.0 L1507.0,1016.9 L1507.7,1018.7 L1508.4,1020.6 L1509.1,1022.5 L1509.8,1024.3 L1510.5,1026.2 L1511.2,1028.0 L1512.0,1029.9 L1512.7,1031.8 L1513.4,1033.6 L1514.1,1035.5 L1514.9,1037.3 L1515.6,1039.2 L1516.4,1041.0 L1517.1,1042.9 L1517.8,1044.8 L1518.6,1046.6 L1519.3,1048.5 L1520.1,1050.3 L1520.9,1052.2 L1521.6,1054.0 L1522.4,1055.9 L1523.2,1057.7 L1523.9,1059.6 L1524.7,1061.4 L1525.5,1063.3 L1526.3,1065.1 L1527.1,1067.0 L1527.9,1068.8 L1528.7,1070.7 L1529.5,1072.5 L1530.3,1074.4 L1531.1,1076.2 L1531.9,1078.1 L1532.7,1079.9 L1533.5,1081.8 L1534.3,1083.6 L1535.2,1085.4 L1536.0,1087.3 L1536.8,1089.1 L1537.7,1091.0 L1538.5,1092.8 L1539.4,1094.6 L1540.2,1096.5 L1541.1,1098.3 L1541.9,1100.1 L1542.8,1102.0 L1543.6,1103.8 L1544.5,1105.6 L1545.4,1107.4 L1546.2,1109.3 L1547.1,1111.1 L1548.0,1112.9 L1548.8,1114.7 L1549.7,1116.5 L1550.6,1118.4 L1551.5,1120.2 L1552.4,1122.0 L1553.2,1123.8 L1554.1,1125.6 L1555.0,1127.4 L1555.9,1129.2 L1556.8,1131.0 L1557.7,1132.8 L1558.6,1134.6 L1559.5,1136.4 L1560.4,1138.2 L1561.3,1140.0 L1562.2,1141.8 L1563.1,1143.6 L1564.0,1145.4 L1565.0,1147.2 L1565.9,1148.9 L1566.8,1150.7 L1567.7,1152.5 L1568.6,1154.3 L1569.5,1156.0 L1570.4,1157.8 L1571.4,1159.6 L1572.3,1161.3 L1573.2,1163.1 L1574.1,1164.8 L1575.1,1166.6 L1576.0,1168.3 L1577.0,1170.1 L1577.9,1171.8 L1578.8,1173.6 L1579.8,1175.3 L1580.7,1177.0 L1581.7,1178.8 L1582.7,1180.5 L1583.6,1182.2 L1584.6,1184.0 L1585.6,1185.7 L1586.5,1187.4 L1587.5,1189.1 L1588.5,1190.8 L1589.5,1192.5 L1590.5,1194.2 L1591.5,1195.9 L1592.5,1197.6 L1593.5,1199.3 L1594.6,1201.0 L1595.6,1202.7 L1596.6,1204.3 L1597.7,1206.0 L1598.7,1207.7 L1599.8,1209.3 L1600.9,1211.0 L1601.9,1212.7 L1603.0,1214.3 L1604.1,1216.0 L1605.2,1217.6 L1606.3,1219.3 L1607.4,1220.9 L1608.6,1222.5 L1609.7,1224.2 L1610.8,1225.8 L1612.0,1227.4 L1613.1,1229.0 L1614.3,1230.6 L1615.5,1232.2 L1616.7,1233.8 L1617.9,1235.4 L1619.1,1237.0 L1620.3,1238.6 L1621.6,1240.2 L1622.8,1241.8 L1624.0,1243.3 L1625.3,1244.9 L1626.6,1246.5 L1627.9,1248.0 L1629.2,1249.6 L1630.5,1251.1 L1631.8,1252.6 L1633.1,1254.2 L1634.4,1255.7 L1635.8,1257.2 L1637.1,1258.7 L1638.5,1260.2 L1639.9,1261.7 L1641.2,1263.2 L1642.6,1264.7 L1644.0,1266.1 L1645.4,1267.6 L1646.8,1269.1 L1648.3,1270.5 L1649.7,1271.9 L1651.1,1273.4 L1652.6,1274.8 L1654.1,1276.2 L1655.5,1277.6 L1657.0,1279.0 L1658.5,1280.4 L1660.0,1281.7 L1661.5,1283.1 L1663.0,1284.4 L1664.5,1285.8 L1666.1,1287.1 L1667.6,1288.4 L1669.2,1289.7 L1670.7,1291.0 L1672.3,1292.3 L1673.9,1293.6 L1675.4,1294.8 L1677.0,1296.1 L1678.6,1297.3 L1680.2,1298.5 L1681.8,1299.8 L1683.5,1301.0 L1685.1,1302.1 L1686.7,1303.3 L1688.4,1304.5 L1690.0,1305.6 L1691.7,1306.8 L1693.3,1307.9 L1695.0,1309.0 L1696.7,1310.1 L1698.4,1311.2 L1700.1,1312.2 L1701.8,1313.3 L1703.5,1314.3 L1705.2,1315.3 L1706.9,1316.3 L1708.7,1317.3 L1710.4,1318.3 L1712.1,1319.3 L1713.9,1320.2 L1715.7,1321.1 L1717.4,1322.0 L1719.2,1322.9 L1721.0,1323.8 L1722.7,1324.7 L1724.5,1325.5 L1726.3,1326.4 L1728.1,1327.2 L1730.0,1328.0 L1731.8,1328.7 L1733.6,1329.5 L1735.4,1330.2 L1737.3,1331.0 L1739.1,1331.7 L1740.9,1332.4 L1742.8,1333.0 L1744.7,1333.7 L1746.5,1334.3 L1748.4,1334.9 L1750.3,1335.5 L1752.1,1336.1 L1754.0,1336.7 L1755.9,1337.2 L1757.8,1337.7 L1759.7,1338.2 L1761.6,1338.7 L1763.5,1339.1 L1765.5,1339.6 L1767.4,1340.0 L1769.3,1340.4 L1771.2,1340.8 L1773.2,1341.1 L1775.1,1341.5 L1777.1,1341.8 L1779.0,1342.1 L1781.0,1342.4 L1782.9,1342.7 L1784.9,1343.0 L1786.9,1343.2 L1788.8,1343.5 L1790.8,1343.7 L1792.8,1343.9 L1794.8,1344.2 L1796.8,1344.3 L1798.7,1344.5 L1800.7,1344.7 L1802.7,1344.9 L1804.7,1345.0 L1806.7,1345.2 L1808.7,1345.3 L1810.7,1345.5 L1812.7,1345.6 L1814.7,1345.7 L1816.8,1345.8 L1818.8,1345.9 L1820.8,1346.0 L1822.8,1346.1 L1824.8,1346.2 L1826.8,1346.3 L1828.9,1346.4 L1830.9,1346.5 L1832.9,1346.6 L1834.9,1346.6 L1836.9,1346.7 L1839.0,1346.8 L1841.0,1346.9 L1843.0,1346.9 L1845.1,1347.0 L1847.1,1347.1 L1849.1,1347.1 L1851.1,1347.2 L1853.2,1347.2 L1855.2,1347.3 L1857.2,1347.3 L1859.2,1347.4 L1861.3,1347.5 L1863.3,1347.5 L1865.3,1347.6 L1867.4,1347.6 L1869.4,1347.7 L1871.4,1347.7 L1873.4,1347.7 L1875.4,1347.8 L1877.5,1347.8 L1879.5,1347.9 L1881.5,1347.9 L1883.5,1348.0 L1885.5,1348.0 L1887.5,1348.0 L1889.5,1348.1 L1891.5,1348.1 L1893.5,1348.2 L1895.6,1348.2 L1897.6,1348.2 L1899.5,1348.3 L1901.5,1348.3 L1903.5,1348.4 L1905.5,1348.4 L1907.5,1348.4 L1909.5,1348.5 L1911.5,1348.5 L1913.5,1348.6 L1915.5,1348.6 L1917.5,1348.7 L1919.4,1348.7 L1921.4,1348.8 L1923.4,1348.8 L1925.4,1348.9 L1927.4,1348.9 L1929.3,1349.0 L1931.3,1349.0 L1933.3,1349.1 L1935.3,1349.1 L1937.3,1349.2 L1939.2,1349.2 L1941.2,1349.3 L1943.2,1349.4 L1945.2,1349.5 L1947.1,1349.5 L1949.1,1349.6 L1951.1,1349.7 L1953.1,1349.8 L1955.0,1349.8 L1957.0,1349.9 L1959.0,1350.0 L1961.0,1350.1 L1962.9,1350.2 L1964.9,1350.3 L1966.9,1350.4 L1968.9,1350.5 L1970.8,1350.6 L1972.8,1350.7 L1974.8,1350.8 L1976.8,1351.0 L1978.8,1351.1 L1980.8,1351.2 L1982.7,1351.3 L1984.7,1351.5 L1986.7,1351.6 L1988.7,1351.8 L1990.7,1351.9 L1992.7,1352.1 L1994.7,1352.2 L1996.7,1352.4 L1998.7,1352.6 L2000.7,1352.7 L2002.7,1352.9 L2004.7,1353.1 L2006.7,1353.3 L2008.7,1353.5 L2010.7,1353.7 L2012.7,1353.9 L2014.7,1354.1 L2016.7,1354.3 L2018.8,1354.6 L2020.8,1354.8 L2022.8,1355.0 L2024.8,1355.3 L2026.0,1355.4" stroke="#EF4040"/>
<path d="M256.0,149.5 L256.9,151.2 L257.7,153.0 L258.4,154.8 L259.0,156.6 L259.6,158.5 L260.2,160.3 L260.9,162.2 L261.5,164.0 L262.3,165.8 L263.1,167.6 L264.0,169.4 L265.1,171.1 L266.3,172.7 L267.7,174.3 L269.1,175.8 L270.7,177.2 L272.3,178.6 L273.9,179.8 L275.6,180.9 L277.3,182.0 L279.1,182.9 L280.8,183.7 L282.6,184.4 L284.4,185.0 L286.2,185.6 L288.0,186.1 L289.8,186.5 L291.6,186.9 L293.5,187.3 L295.4,187.6 L297.2,188.0 L299.1,188.3 L301.0,188.6 L302.9,188.9 L304.9,189.2 L306.8,189.6 L308.7,189.9 L310.7,190.2 L312.6,190.6 L314.6,190.9 L316.6,191.2 L318.5,191.6 L320.5,191.9 L322.5,192.2 L324.5,192.6 L326.5,192.9 L328.5,193.2 L330.5,193.5 L332.5,193.8 L334.5,194.1 L336.5,194.4 L338.6,194.6 L340.6,194.9 L342.6,195.1 L344.6,195.3 L346.6,195.5 L348.6,195.7 L350.6,195.9 L352.7,196.1 L354.7,196.2 L356.7,196.4 L358.7,196.5 L360.7,196.6 L362.7,196.7 L364.7,196.8 L366.7,196.9 L368.7,197.0 L370.7,197.1 L372.7,197.2 L374.7,197.3 L376.7,197.4 L378.7,197.5 L380.7,197.6 L382.7,197.7 L384.7,197.8 L386.7,197.9 L388.7,198.0 L390.7,198.2 L392.7,198.3 L394.7,198.4 L396.7,198.6 L398.7,198.7 L400.7,198.9 L402.7,199.1 L404.7,199.3 L406.7,199.5 L408.7,199.8 L410.7,200.0 L412.7,200.3 L414.7,200.6 L416.6,200.9 L418.6,201.2 L420.6,201.5 L422.6,201.8 L424.6,202.2 L426.6,202.5 L428.6,202.9 L430.6,203.3 L432.6,203.7 L434.5,204.0 L436.5,204.4 L438.5,204.8 L440.5,205.2 L442.5,205.6 L444.5,205.9 L446.5,206.3 L448.4,206.7 L450.4,207.1 L452.4,207.4 L454.4,207.8 L456.4,208.1 L458.4,208.5 L460.3,208.8 L462.3,209.1 L464.3,209.5 L466.3,209.8 L468.3,210.1 L470.2,210.4 L472.2,210.7 L474.2,210.9 L476.2,211.2 L478.2,211.5 L480.2,211.8 L482.1,212.0 L484.1,212.3 L486.1,212.5 L488.1,212.8 L490.0,213.0 L492.0,213.2 L494.0,213.5 L496.0,213.7 L498.0,213.9 L499.9,214.1 L501.9,214.3 L503.9,214.5 L505.9,214.7 L507.9,214.9 L509.8,215.1 L511.8,215.2 L513.8,215.4 L515.8,215.6 L517.8,215.7 L519.7,215.9 L521.7,216.1 L523.7,216.2 L525.7,216.4 L527.6,216.5 L529.6,216.6 L531.6,216.8 L533.6,216.9 L535.6,217.0 L537.5,217.2 L539.5,217.3 L541.5,217.4 L543.5,217.5 L545.5,217.6 L547.4,217.8 L549.4,217.9 L551.4,218.0 L553.4,218.1 L555.4,218.2 L557.3,218.3 L559.3,218.4 L561.3,218.5 L563.3,218.6 L565.3,218.6 L567.2,218.7 L569.2,218.8 L571.2,218.9 L573.2,219.0 L575.2,219.1 L577.2,219.2 L579.1,219.2 L581.1,219.3 L583.1,219.4 L585.1,219.5 L587.1,219.5 L589.1,219.6 L591.1,219.7 L593.0,219.8 L595.0,219.8 L597.0,219.9 L599.0,220.0 L601.0,220.0 L603.0,220.1 L605.0,220.2 L607.0,220.3 L608.9,220.3 L610.9,220.4 L612.9,220.5 L614.9,220.5 L616.9,220.6 L618.9,220.7 L620.9,220.8 L622.9,220.8 L624.9,220.9 L626.9,221.0 L628.9,221.1 L630.9,221.2 L632.8,221.2 L634.8,221.3 L636.8,221.4 L638.8,221.5 L640.8,221.6 L642.8,221.7 L644.8,221.8 L646.8,221.9 L648.8,222.0 L650.8,222.1 L652.8,222.2 L654.8,222.3 L656.8,222.4 L658.8,222.5 L660.8,222.6 L662.9,222.7 L664.9,222.9 L666.9,223.0 L668.9,223.1 L670.9,223.2 L672.9,223.4 L674.9,223.5 L676.9,223.6 L678.9,223.8 L680.9,223.9 L682.9,224.1 L685.0,224.2 L687.0,224.4 L689.0,224.6 L691.0,224.7 L693.0,224.9 L695.0,225.1 L697.0,225.3 L699.1,225.5 L701.1,225.6 L703.1,225.8 L705.1,226.0 L707.1,226.3 L709.1,226.5 L711.1,226.7 L713.1,226.9 L715.2,227.1 L717.2,227.4 L719.2,227.6 L721.2,227.9 L723.2,228.1 L725.2,228.4 L727.2,228.6 L729.2,228.9 L731.2,229.2 L733.2,229.5 L735.2,229.8 L737.2,230.0 L739.2,230.4 L741.2,230.7 L743.2,231.0 L745.2,231.3 L747.2,231.6 L749.1,232.0 L751.1,232.3 L753.1,232.7 L755.1,233.0 L757.0,233.4 L759.0,233.8 L761.0,234.2 L763.0,234.6 L764.9,235.0 L766.9,235.4 L768.8,235.8 L770.8,236.2 L772.7,236.6 L774.7,237.1 L776.6,237.5 L778.6,238.0 L780.5,238.5 L782.4,238.9 L784.4,239.4 L786.3,239.9 L788.2,240.5 L790.1,241.0 L792.0,241.5 L793.9,242.1 L795.8,242.7 L797.7,243.3 L799.5,243.9 L801.4,244.5 L803.2,245.2 L805.1,245.9 L806.9,246.6 L808.7,247.3 L810.5,248.0 L812.3,248.8 L814.1,249.6 L815.8,250.4 L817.6,251.3 L819.3,252.2 L821.0,253.1 L822.7,254.0 L824.4,255.0 L826.1,256.0 L827.7,257.1 L829.3,258.1 L830.9,259.3 L832.5,260.4 L834.1,261.6 L835.7,262.8 L837.2,264.0 L838.7,265.3 L840.2,266.6 L841.7,267.9 L843.2,269.2 L844.6,270.6 L846.1,272.0 L847.5,273.4 L848.9,274.9 L850.3,276.4 L851.7,277.9 L853.0,279.4 L854.4,280.9 L855.7,282.5 L857.0,284.0 L858.3,285.6 L859.6,287.2 L860.8,288.9 L862.1,290.5 L863.3,292.1 L864.6,293.8 L865.8,295.5 L867.0,297.2 L868.2,298.9 L869.3,300.6 L870.5,302.3 L871.6,304.0 L872.8,305.8 L873.9,307.5 L875.0,309.3 L876.1,311.0 L877.1,312.8 L878.2,314.5 L879.3,316.3 L880.3,318.0 L881.4,319.8 L882.4,321.6 L883.4,323.3 L884.4,325.1 L885.4,326.9 L886.4,328.6 L887.3,330.4 L888.3,332.1 L889.2,333.9 L890.2,335.7 L891.1,337.4 L892.0,339.2 L892.9,340.9 L893.8,342.7 L894.7,344.5 L895.6,346.2 L896.5,348.0 L897.3,349.8 L898.2,351.5 L899.0,353.3 L899.9,355.1 L900.7,356.8 L901.5,358.6 L902.3,360.4 L903.1,362.2 L903.9,363.9 L904.7,365.7 L905.5,367.5 L906.3,369.3 L907.1,371.1 L907.8,372.9 L908.6,374.7 L909.3,376.5 L910.1,378.3 L910.8,380.1 L911.6,381.9 L912.3,383.7 L913.0,385.5 L913.8,387.3 L914.5,389.2 L915.2,391.0 L915.9,392.8 L916.6,394.6 L917.3,396.5 L918.0,398.3 L918.7,400.2 L919.4,402.0 L920.1,403.9 L920.7,405.7 L921.4,407.6 L922.1,409.5 L922.8,411.3 L923.4,413.2 L924.1,415.1 L924.7,417.0 L925.4,418.9 L926.0,420.8 L926.7,422.7 L927.3,424.6 L928.0,426.5 L928.6,428.4 L929.2,430.3 L929.9,432.2 L930.5,434.2 L931.1,436.1 L931.7,438.0 L932.3,439.9 L932.9,441.9 L933.5,443.8 L934.1,445.8 L934.7,447.7 L935.3,449.6 L935.9,451.6 L936.5,453.5 L937.0,455.5 L937.6,457.5 L938.2,459.4 L938.7,461.4 L939.3,463.3 L939.8,465.3 L940.3,467.3 L940.9,469.2 L941.4,471.2 L941.9,473.2 L942.4,475.1 L942.9,477.1 L943.4,479.1 L943.9,481.1 L944.4,483.0 L944.9,485.0 L945.4,487.0 L945.9,489.0 L946.3,490.9 L946.8,492.9 L947.3,494.9 L947.7,496.9 L948.2,498.9 L948.6,500.8 L949.1,502.8 L949.5,504.8 L949.9,506.8 L950.4,508.8 L950.8,510.7 L951.2,512.7 L951.7,514.7 L952.1,516.7 L952.5,518.7 L953.0,520.6 L953.4,522.6 L953.8,524.6 L954.2,526.6 L954.7,528.5 L955.1,530.5 L955.5,532.5 L955.9,534.4 L956.3,536.4 L956.8,538.4 L957.2,540.3 L957.6,542.3 L958.0,544.2 L958.5,546.2 L958.9,548.2 L959.3,550.1 L959.8,552.1 L960.2,554.0 L960.6,555.9 L961.1,557.9 L961.5,559.8 L962.0,561.8 L962.4,563.7 L962.9,565.6 L963.3,567.5 L963.8,569.5 L964.2,571.4 L964.7,573.3 L965.2,575.2 L965.6,577.1 L966.1,579.0 L966.6,580.9 L967.1,582.8 L967.6,584.7 L968.1,586.6 L968.6,588.5 L969.1,590.4 L969.7,592.3 L970.2,594.1 L970.7,596.0 L971.3,597.9 L971.8,599.7 L972.4,601.6 L973.0,603.5 L973.6,605.3 L974.2,607.2 L974.8,609.0 L975.4,610.9 L976.0,612.7 L976.6,614.6 L977.3,616.4 L977.9,618.3 L978.6,620.1 L979.2,621.9 L979.9,623.8 L980.6,625.6 L981.3,627.4 L982.1,629.2 L982.8,631.1 L983.5,632.9 L984.3,634.7 L985.1,636.5 L985.9,638.3 L986.7,640.1 L987.5,642.0 L988.3,643.8 L989.1,645.6 L990.0,647.4 L990.9,649.2 L991.8,651.0 L992.7,652.8 L993.6,654.6 L994.5,656.3 L995.4,658.1 L996.4,659.9 L997.3,661.7 L998.3,663.5 L999.2,665.3 L1000.2,667.1 L1001.2,668.8 L1002.2,670.6 L1003.2,672.4 L1004.2,674.2 L1005.2,675.9 L1006.3,677.7 L1007.3,679.5 L1008.3,681.3 L1009.3,683.0 L1010.4,684.8 L1011.4,686.6 L1012.5,688.3 L1013.5,690.1 L1014.6,691.9 L1015.6,693.6 L1016.7,695.4 L1017.7,697.2 L1018.8,698.9 L1019.8,700.7 L1020.9,702.4 L1021.9,704.2 L1022.9,706.0 L1024.0,707.7 L1025.0,709.5 L1026.1,711.2 L1027.1,713.0 L1028.1,714.7 L1029.2,716.5 L1030.2,718.2 L1031.2,720.0 L1032.3,721.8 L1033.3,723.5 L1034.3,725.3 L1035.3,727.0 L1036.4,728.8 L1037.4,730.5 L1038.4,732.3 L1039.4,734.0 L1040.4,735.8 L1041.4,737.5 L1042.4,739.3 L1043.4,741.0 L1044.3,742.7 L1045.3,744.5 L1046.3,746.2 L1047.3,748.0 L1048.2,749.7 L1049.2,751.5 L1050.1,753.2 L1051.1,755.0 L1052.0,756.7 L1052.9,758.5 L1053.9,760.2 L1054.8,762.0 L1055.7,763.7 L1056.6,765.4 L1057.5,767.2 L1058.4,768.9 L1059.3,770.7 L1060.2,772.4 L1061.1,774.2 L1062.0,775.9 L1062.9,777.7 L1063.7,779.4 L1064.6,781.2 L1065.5,782.9 L1066.4,784.6 L1067.2,786.4 L1068.1,788.1 L1069.0,789.9 L1069.8,791.6 L1070.7,793.4 L1071.6,795.1 L1072.4,796.9 L1073.3,798.6 L1074.1,800.4 L1075.0,802.1 L1075.9,803.9 L1076.7,805.6 L1077.6,807.4 L1078.5,809.1 L1079.3,810.9 L1080.2,812.6 L1081.1,814.4 L1082.0,816.1 L1082.9,817.9 L1083.7,819.6 L1084.6,821.4 L1085.5,823.1 L1086.4,824.9 L1087.3,826.7 L1088.2,828.4 L1089.1,830.2 L1090.0,831.9 L1091.0,833.7 L1091.9,835.4 L1092.8,837.2 L1093.8,839.0 L1094.7,840.7 L1095.6,842.5 L1096.6,844.2 L1097.5,846.0 L1098.5,847.7 L1099.5,849.5 L1100.4,851.3 L1101.4,853.0 L1102.4,854.8 L1103.4,856.5 L1104.4,858.3 L1105.3,860.0 L1106.3,861.7 L1107.4,863.5 L1108.4,865.2 L1109.4,867.0 L1110.4,868.7 L1111.4,870.4 L1112.5,872.2 L1113.5,873.9 L1114.5,875.6 L1115.6,877.4 L1116.7,879.1 L1117.7,880.8 L1118.8,882.5 L1119.9,884.2 L1120.9,885.9 L1122.0,887.6 L1123.1,889.4 L1124.2,891.0 L1125.3,892.7 L1126.4,894.4 L1127.5,896.1 L1128.7,897.8 L1129.8,899.5 L1130.9,901.1 L1132.1,902.8 L1133.2,904.5 L1134.4,906.1 L1135.5,907.8 L1136.7,909.4 L1137.9,911.1 L1139.1,912.7 L1140.3,914.4 L1141.4,916.0 L1142.6,917.6 L1143.9,919.2 L1145.1,920.8 L1146.3,922.4 L1147.5,924.0 L1148.8,925.6 L1150.0,927.2 L1151.2,928.8 L1152.5,930.3 L1153.8,931.9 L1155.0,933.4 L1156.3,935.0 L1157.6,936.5 L1158.9,938.1 L1160.2,939.6 L1161.5,941.1 L1162.8,942.6 L1164.1,944.1 L1165.4,945.7 L1166.8,947.1 L1168.1,948.6 L1169.4,950.1 L1170.8,951.6 L1172.1,953.1 L1173.5,954.5 L1174.9,956.0 L1176.2,957.5 L1177.6,958.9 L1179.0,960.3 L1180.4,961.8 L1181.8,963.2 L1183.2,964.6 L1184.6,966.1 L1186.0,967.5 L1187.4,968.9 L1188.8,970.3 L1190.2,971.7 L1191.7,973.1 L1193.1,974.5 L1194.5,975.9 L1196.0,977.3 L1197.4,978.6 L1198.9,980.0 L1200.3,981.4 L1201.8,982.7 L1203.2,984.1 L1204.7,985.5 L1206.2,986.8 L1207.7,988.2 L1209.1,989.5 L1210.6,990.8 L1212.1,992.2 L1213.6,993.5 L1215.1,994.8 L1216.6,996.1 L1218.1,997.5 L1219.6,998.8 L1221.1,1000.1 L1222.6,1001.4 L1224.1,1002.7 L1225.6,1004.0 L1227.1,1005.3 L1228.6,1006.6 L1230.1,1007.9 L1231.7,1009.2 L1233.2,1010.5 L1234.7,1011.7 L1236.2,1013.0 L1237.8,1014.3 L1239.3,1015.6 L1240.8,1016.9 L1242.4,1018.1 L1243.9,1019.4 L1245.4,1020.7 L1247.0,1021.9 L1248.5,1023.2 L1250.1,1024.4 L1251.6,1025.7 L1253.2,1026.9 L1254.7,1028.2 L1256.2,1029.4 L1257.8,1030.7 L1259.3,1031.9 L1260.9,1033.2 L1262.4,1034.4 L1264.0,1035.7 L1265.6,1036.9 L1267.1,1038.1 L1268.7,1039.4 L1270.2,1040.6 L1271.8,1041.8 L1273.4,1043.0 L1274.9,1044.2 L1276.5,1045.5 L1278.1,1046.7 L1279.7,1047.9 L1281.2,1049.1 L1282.8,1050.2 L1284.4,1051.4 L1286.0,1052.6 L1287.6,1053.8 L1289.2,1055.0 L1290.8,1056.1 L1292.5,1057.3 L1294.1,1058.4 L1295.7,1059.6 L1297.4,1060.7 L1299.0,1061.8 L1300.6,1063.0 L1302.3,1064.1 L1304.0,1065.2 L1305.6,1066.3 L1307.3,1067.4 L1309.0,1068.4 L1310.7,1069.5 L1312.4,1070.6 L1314.1,1071.6 L1315.8,1072.7 L1317.5,1073.7 L1319.3,1074.8 L1321.0,1075.8 L1322.8,1076.8 L1324.5,1077.8 L1326.3,1078.8 L1328.1,1079.8 L1329.8,1080.7 L1331.6,1081.7 L1333.4,1082.7 L1335.2,1083.6 L1337.0,1084.6 L1338.8,1085.6 L1340.6,1086.5 L1342.4,1087.5 L1344.2,1088.4 L1346.0,1089.4 L1347.8,1090.3 L1349.6,1091.3 L1351.3,1092.3 L1353.1,1093.2 L1354.9,1094.2 L1356.7,1095.2 L1358.5,1096.2 L1360.2,1097.1 L1362.0,1098.1 L1363.7,1099.1 L1365.5,1100.1 L1367.2,1101.2 L1369.0,1102.2 L1370.7,1103.2 L1372.4,1104.3 L1374.1,1105.3 L1375.7,1106.4 L1377.4,1107.5 L1379.1,1108.6 L1380.7,1109.7 L1382.3,1110.8 L1384.0,1111.9 L1385.6,1113.1 L1387.1,1114.3 L1388.7,1115.5 L1390.3,1116.7 L1391.8,1117.9 L1393.3,1119.1 L1394.8,1120.3 L1396.3,1121.6 L1397.8,1122.9 L1399.3,1124.1 L1400.8,1125.4 L1402.2,1126.8 L1403.7,1128.1 L1405.1,1129.4 L1406.5,1130.8 L1407.9,1132.1 L1409.3,1133.5 L1410.7,1134.9 L1412.1,1136.3 L1413.4,1137.7 L1414.8,1139.1 L1416.1,1140.5 L1417.5,1142.0 L1418.8,1143.4 L1420.1,1144.9 L1421.4,1146.4 L1422.7,1147.9 L1424.0,1149.4 L1425.3,1150.9 L1426.5,1152.4 L1427.8,1153.9 L1429.1,1155.4 L1430.3,1157.0 L1431.6,1158.5 L1432.8,1160.1 L1434.0,1161.7 L1435.2,1163.3 L1436.4,1164.8 L1437.7,1166.4 L1438.9,1168.0 L1440.1,1169.6 L1441.2,1171.3 L1442.4,1172.9 L1443.6,1174.5 L1444.8,1176.1 L1445.9,1177.8 L1447.1,1179.4 L1448.3,1181.1 L1449.4,1182.7 L1450.6,1184.4 L1451.7,1186.0 L1452.9,1187.7 L1454.0,1189.3 L1455.2,1191.0 L1456.3,1192.7 L1457.4,1194.4 L1458.6,1196.0 L1459.7,1197.7 L1460.8,1199.4 L1461.9,1201.1 L1463.1,1202.7 L1464.2,1204.4 L1465.3,1206.1 L1466.4,1207.8 L1467.5,1209.5 L1468.7,1211.1 L1469.8,1212.8 L1470.9,1214.5 L1472.0,1216.2 L1473.1,1217.9 L1474.3,1219.5 L1475.4,1221.2 L1476.5,1222.9 L1477.6,1224.6 L1478.8,1226.2 L1479.9,1227.9 L1481.0,1229.6 L1482.1,1231.2 L1483.3,1232.9 L1484.4,1234.6 L1485.6,1236.2 L1486.7,1237.9 L1487.8,1239.5 L1489.0,1241.2 L1490.1,1242.8 L1491.3,1244.4 L1492.5,1246.1 L1493.6,1247.7 L1494.8,1249.3 L1496.0,1251.0 L1497.1,1252.6 L1498.3,1254.2 L1499.5,1255.8 L1500.7,1257.4 L1501.9,1259.0 L1503.1,1260.6 L1504.3,1262.2 L1505.5,1263.7 L1506.8,1265.3 L1508.0,1266.9 L1509.2,1268.4 L1510.5,1270.0 L1511.7,1271.5 L1513.0,1273.1 L1514.3,1274.6 L1515.5,1276.1 L1516.8,1277.7 L1518.1,1279.2 L1519.4,1280.7 L1520.7,1282.2 L1522.0,1283.6 L1523.4,1285.1 L1524.7,1286.6 L1526.1,1288.0 L1527.4,1289.5 L1528.8,1290.9 L1530.2,1292.4 L1531.6,1293.8 L1533.0,1295.2 L1534.4,1296.6 L1535.8,1298.0 L1537.2,1299.3 L1538.7,1300.7 L1540.1,1302.1 L1541.6,1303.4 L1543.1,1304.8 L1544.6,1306.1 L1546.1,1307.4 L1547.6,1308.7 L1549.2,1310.0 L1550.7,1311.3 L1552.3,1312.5 L1553.8,1313.8 L1555.4,1315.0 L1557.0,1316.2 L1558.7,1317.4 L1560.3,1318.6 L1561.9,1319.8 L1563.6,1320.9 L1565.2,1322.1 L1566.9,1323.2 L1568.6,1324.2 L1570.3,1325.3 L1572.0,1326.3 L1573.7,1327.3 L1575.5,1328.3 L1577.2,1329.2 L1579.0,1330.1 L1580.7,1331.0 L1582.5,1331.8 L1584.3,1332.6 L1586.1,1333.4 L1587.9,1334.1 L1589.7,1334.8 L1591.5,1335.5 L1593.4,1336.1 L1595.2,1336.6 L1597.1,1337.1 L1598.9,1337.6 L1600.8,1338.1 L1602.7,1338.5 L1604.5,1338.9 L1606.4,1339.2 L1608.3,1339.6 L1610.2,1339.9 L1612.1,1340.2 L1614.1,1340.5 L1616.0,1340.8 L1617.9,1341.1 L1619.9,1341.4 L1621.8,1341.7 L1623.8,1342.0 L1625.7,1342.3 L1627.7,1342.6 L1629.7,1342.9 L1631.6,1343.1 L1633.6,1343.4 L1635.6,1343.7 L1637.6,1344.0 L1639.6,1344.2 L1641.6,1344.5 L1643.6,1344.8 L1645.6,1345.0 L1647.6,1345.3 L1649.6,1345.5 L1651.6,1345.8 L1653.6,1346.0 L1655.7,1346.3 L1657.7,1346.5 L1659.7,1346.7 L1661.7,1347.0 L1663.8,1347.2 L1665.8,1347.4 L1667.8,1347.6 L1669.9,1347.9 L1671.9,1348.1 L1673.9,1348.3 L1676.0,1348.5 L1678.0,1348.7 L1680.1,1348.9 L1682.1,1349.0 L1684.2,1349.2 L1686.2,1349.4 L1688.2,1349.6 L1690.3,1349.7 L1692.3,1349.9 L1694.4,1350.0 L1696.4,1350.2 L1698.5,1350.3 L1700.5,1350.5 L1702.5,1350.6 L1704.6,1350.7 L1706.6,1350.8 L1708.6,1350.9 L1710.7,1351.0 L1712.7,1351.1 L1714.7,1351.2 L1716.7,1351.3 L1718.8,1351.4 L1720.8,1351.5 L1722.8,1351.6 L1724.8,1351.6 L1726.9,1351.7 L1728.9,1351.8 L1730.9,1351.8 L1732.9,1351.9 L1734.9,1352.0 L1736.9,1352.0 L1738.9,1352.1 L1740.9,1352.1 L1743.0,1352.2 L1745.0,1352.2 L1747.0,1352.3 L1749.0,1352.3 L1751.0,1352.3 L1753.0,1352.4 L1755.0,1352.4 L1757.0,1352.5 L1759.0,1352.5 L1761.0,1352.6 L1763.0,1352.6 L1765.0,1352.6 L1767.0,1352.7 L1768.9,1352.7 L1770.9,1352.8 L1772.9,1352.8 L1774.9,1352.9 L1776.9,1352.9 L1778.9,1353.0 L1780.9,1353.0 L1782.9,1353.1 L1784.9,1353.2 L1786.8,1353.2 L1788.8,1353.3 L1790.8,1353.4 L1792.8,1353.5 L1794.8,1353.6 L1796.7,1353.6 L1798.7,1353.7 L1800.7,1353.8 L1802.7,1353.9 L1804.7,1354.0 L1806.6,1354.2 L1808.6,1354.3 L1810.6,1354.4 L1812.6,1354.5 L1814.5,1354.7 L1816.5,1354.8 L1818.5,1355.0 L1820.5,1355.1 L1822.4,1355.3 L1824.4,1355.5 L1826.4,1355.7 L1828.4,1355.9 L1830.3,1356.1 L1832.3,1356.3 L1834.3,1356.5 L1836.2,1356.7 L1838.2,1357.0 L1840.2,1357.2 L1842.1,1357.5 L1844.1,1357.7 L1846.1,1358.0 L1848.0,1358.3 L1850.0,1358.6 L1852.0,1358.9 L1854.0,1359.2 L1855.9,1359.6 L1857.9,1359.9 L1859.9,1360.3 L1861.8,1360.6 L1863.8,1361.0 L1865.8,1361.4 L1867.7,1361.8 L1869.7,1362.2 L1871.7,1362.7 L1873.6,1363.1 L1875.6,1363.6 L1877.6,1364.1 L1879.5,1364.5 L1881.5,1365.0 L1883.5,1365.5 L1885.4,1365.9 L1887.4,1366.3 L1889.4,1366.7 L1891.3,1367.0 L1893.3,1367.3 L1895.3,1367.6 L1897.2,1367.8 L1899.2,1368.1 L1901.2,1368.2 L1903.1,1368.4 L1905.1,1368.6 L1907.1,1368.7 L1909.1,1368.8 L1911.0,1368.9 L1913.0,1368.9 L1915.0,1369.0 L1916.9,1369.0 L1918.9,1369.1 L1920.9,1369.1 L1922.9,1369.1 L1924.8,1369.1 L1926.8,1369.2 L1928.8,1369.2 L1930.8,1369.2 L1932.7,1369.2 L1934.7,1369.2 L1936.7,1369.2 L1938.7,1369.2 L1940.7,1369.2 L1942.6,1369.2 L1944.6,1369.2 L1946.6,1369.3 L1948.6,1369.3 L1950.6,1369.3 L1952.5,1369.3 L1954.5,1369.4 L1956.5,1369.4 L1958.5,1369.5 L1960.5,1369.5 L1962.5,1369.6 L1964.5,1369.7 L1966.5,1369.8 L1968.4,1369.8 L1970.4,1369.9 L1972.4,1370.0 L1974.4,1370.1 L1976.4,1370.3 L1978.4,1370.4 L1980.4,1370.5 L1982.4,1370.7 L1984.4,1370.8 L1986.4,1371.0 L1988.4,1371.1 L1990.4,1371.3 L1992.4,1371.5 L1994.4,1371.6 L1996.4,1371.8 L1998.4,1372.0 L2000.5,1372.3 L2002.5,1372.5 L2004.5,1372.7 L2006.5,1373.0 L2008.5,1373.2 L2010.5,1373.5 L2012.5,1373.7 L2014.6,1374.0 L2016.6,1374.3 L2018.6,1374.6 L2020.6,1374.9 L2022.7,1375.2 L2024.7,1375.6 L2026.1,1375.8" stroke="#1A70DF"/>
<path d="M256.0,158.0 L258.0,158.0 L260.0,158.0 L262.0,158.0 L264.0,158.0 L266.0,158.1 L268.0,158.1 L270.0,158.1 L272.0,158.1 L274.0,158.1 L276.0,158.1 L278.0,158.1 L280.0,158.1 L282.0,158.1 L284.0,158.1 L286.0,158.1 L288.0,158.1 L290.0,158.1 L292.0,158.1 L294.0,158.1 L296.0,158.1 L298.0,158.2 L300.0,158.2 L302.0,158.2 L304.0,158.2 L306.0,158.2 L308.0,158.2 L310.0,158.2 L312.0,158.2 L314.0,158.2 L316.0,158.2 L318.0,158.2 L320.0,158.2 L322.0,158.2 L324.0,158.2 L326.0,158.2 L328.0,158.2 L330.0,158.2 L332.0,158.2 L334.0,158.2 L336.0,158.2 L338.0,158.2 L340.0,158.2 L342.0,158.2 L344.0,158.2 L346.0,158.2 L348.0,158.3 L350.0,158.3 L352.0,158.3 L354.0,158.3 L356.0,158.3 L358.0,158.3 L360.0,158.3 L362.0,158.3 L364.0,158.3 L366.0,158.3 L368.0,158.3 L370.0,158.3 L372.0,158.4 L374.0,158.4 L376.0,158.4 L378.0,158.4 L380.0,158.4 L382.0,158.4 L384.0,158.4 L386.0,158.5 L388.0,158.5 L390.0,158.5 L392.0,158.5 L394.0,158.5 L396.0,158.5 L398.0,158.6 L400.0,158.6 L402.0,158.6 L404.0,158.6 L406.0,158.6 L407.9,158.7 L409.9,158.7 L411.9,158.7 L413.9,158.8 L415.9,158.8 L417.9,158.8 L419.9,158.8 L421.9,158.9 L423.9,158.9 L425.9,158.9 L427.9,159.0 L429.9,159.0 L431.9,159.0 L433.9,159.1 L435.9,159.1 L437.9,159.2 L439.9,159.2 L441.9,159.2 L443.9,159.3 L445.9,159.3 L447.9,159.4 L449.9,159.4 L451.9,159.5 L453.9,159.5 L455.9,159.6 L457.9,159.6 L459.9,159.7 L461.9,159.7 L463.9,159.8 L465.9,159.9 L467.9,159.9 L469.9,160.0 L471.9,160.0 L473.9,160.1 L475.9,160.2 L477.9,160.2 L479.9,160.3 L481.9,160.4 L483.9,160.5 L485.9,160.5 L487.9,160.6 L489.9,160.7 L491.9,160.8 L493.9,160.9 L495.9,160.9 L497.9,161.0 L499.9,161.1 L501.9,161.2 L503.9,161.3 L505.8,161.4 L507.8,161.5 L509.8,161.5 L511.8,161.6 L513.8,161.7 L515.8,161.8 L517.8,161.9 L519.8,162.0 L521.8,162.1 L523.8,162.2 L525.8,162.3 L527.8,162.4 L529.8,162.5 L531.8,162.6 L533.8,162.7 L535.8,162.8 L537.8,162.9 L539.8,163.0 L541.8,163.1 L543.8,163.2 L545.8,163.3 L547.8,163.4 L549.8,163.5 L551.8,163.6 L553.8,163.7 L555.8,163.8 L557.8,163.9 L559.8,164.0 L561.8,164.1 L563.8,164.2 L565.8,164.3 L567.8,164.4 L569.8,164.5 L571.8,164.6 L573.8,164.7 L575.8,164.8 L577.8,165.0 L579.8,165.1 L581.8,165.2 L583.8,165.3 L585.8,165.4 L587.8,165.5 L589.8,165.6 L591.8,165.6 L593.8,165.7 L595.8,165.8 L597.8,165.9 L599.8,166.0 L601.8,166.1 L603.7,166.2 L605.7,166.3 L607.7,166.4 L609.7,166.5 L611.7,166.6 L613.7,166.7 L615.7,166.8 L617.7,166.8 L619.7,166.9 L621.7,167.0 L623.7,167.1 L625.7,167.2 L627.7,167.3 L629.7,167.3 L631.7,167.4 L633.7,167.5 L635.7,167.6 L637.7,167.6 L639.7,167.7 L641.7,167.8 L643.7,167.9 L645.7,167.9 L647.7,168.0 L649.7,168.1 L651.7,168.2 L653.7,168.3 L655.7,168.3 L657.7,168.4 L659.7,168.5 L661.7,168.6 L663.7,168.6 L665.7,168.7 L667.7,168.8 L669.7,168.9 L671.7,169.0 L673.7,169.0 L675.7,169.1 L677.7,169.2 L679.7,169.3 L681.7,169.4 L683.7,169.5 L685.7,169.6 L687.7,169.7 L689.7,169.8 L691.7,169.9 L693.7,170.0 L695.7,170.1 L697.7,170.2 L699.7,170.3 L701.7,170.4 L703.7,170.5 L705.7,170.6 L707.7,170.8 L709.7,170.9 L711.7,171.0 L713.7,171.1 L715.7,171.3 L717.7,171.4 L719.7,171.6 L721.7,171.7 L723.7,171.8 L725.7,172.0 L727.7,172.2 L729.7,172.3 L731.7,172.5 L733.7,172.7 L735.7,172.8 L737.7,173.0 L739.7,173.2 L741.7,173.4 L743.7,173.6 L745.7,173.8 L747.7,174.0 L749.7,174.2 L751.7,174.4 L753.7,174.6 L755.7,174.8 L757.7,175.1 L759.7,175.3 L761.7,175.6 L763.7,175.9 L765.6,176.1 L767.6,176.4 L769.6,176.7 L771.6,177.0 L773.6,177.3 L775.5,177.6 L777.5,178.0 L779.4,178.3 L781.4,178.7 L783.3,179.1 L785.3,179.5 L787.2,179.9 L789.2,180.3 L791.1,180.7 L793.0,181.1 L794.9,181.6 L796.9,182.1 L798.8,182.6 L800.7,183.1 L802.6,183.6 L804.4,184.2 L806.3,184.7 L808.2,185.3 L810.0,185.9 L811.9,186.5 L813.7,187.1 L815.6,187.8 L817.4,188.5 L819.2,189.2 L821.0,189.9 L822.8,190.6 L824.6,191.4 L826.4,192.1 L828.2,192.9 L830.0,193.8 L831.7,194.6 L833.4,195.5 L835.2,196.4 L836.9,197.3 L838.6,198.2 L840.3,199.2 L842.0,200.2 L843.6,201.2 L845.3,202.2 L847.0,203.3 L848.6,204.4 L850.2,205.5 L851.8,206.7 L853.4,207.9 L855.0,209.1 L856.6,210.3 L858.1,211.6 L859.6,212.9 L861.2,214.2 L862.7,215.6 L864.2,216.9 L865.6,218.4 L867.1,219.8 L868.6,221.3 L870.0,222.8 L871.4,224.3 L872.8,225.9 L874.2,227.4 L875.6,229.0 L877.0,230.6 L878.3,232.3 L879.6,233.9 L881.0,235.6 L882.3,237.3 L883.6,238.9 L884.9,240.6 L886.1,242.3 L887.4,244.1 L888.6,245.8 L889.9,247.5 L891.1,249.2 L892.3,250.9 L893.5,252.7 L894.7,254.4 L895.9,256.1 L897.1,257.8 L898.3,259.5 L899.4,261.2 L900.6,262.9 L901.7,264.6 L902.8,266.3 L903.9,267.9 L905.0,269.6 L906.1,271.2 L907.2,272.8 L908.3,274.5 L909.4,276.1 L910.5,277.7 L911.5,279.3 L912.6,280.9 L913.6,282.4 L914.6,284.0 L915.7,285.6 L916.7,287.2 L917.7,288.8 L918.7,290.4 L919.7,292.0 L920.7,293.6 L921.7,295.1 L922.7,296.7 L923.7,298.4 L924.7,300.0 L925.7,301.6 L926.6,303.2 L927.6,304.8 L928.5,306.5 L929.5,308.1 L930.5,309.8 L931.4,311.5 L932.3,313.2 L933.3,314.9 L934.2,316.6 L935.2,318.4 L936.1,320.1 L937.0,321.9 L938.0,323.7 L938.9,325.5 L939.8,327.3 L940.8,329.1 L941.7,330.9 L942.6,332.8 L943.5,334.6 L944.5,336.5 L945.4,338.3 L946.4,340.2 L947.3,342.1 L948.3,343.9 L949.2,345.8 L950.2,347.6 L951.1,349.5 L952.1,351.3 L953.1,353.2 L954.1,355.0 L955.1,356.9 L956.1,358.7 L957.1,360.5 L958.1,362.3 L959.1,364.1 L960.2,365.9 L961.2,367.6 L962.3,369.4 L963.4,371.1 L964.5,372.8 L965.6,374.5 L966.7,376.1 L967.8,377.8 L969.0,379.4 L970.1,381.0 L971.3,382.5 L972.5,384.1 L973.7,385.6 L974.9,387.0 L976.2,388.5 L977.4,389.9 L978.7,391.3 L980.0,392.7 L981.3,394.1 L982.6,395.5 L983.9,396.9 L985.3,398.2 L986.6,399.6 L988.0,401.0 L989.4,402.4 L990.7,403.8 L992.1,405.3 L993.5,406.8 L994.9,408.2 L996.2,409.8 L997.6,411.3 L998.9,412.8 L1000.3,414.4 L1001.6,415.9 L1002.9,417.5 L1004.1,419.1 L1005.4,420.8 L1006.6,422.4 L1007.7,424.0 L1008.9,425.7 L1010.0,427.3 L1011.0,429.0 L1012.1,430.7 L1013.1,432.4 L1014.0,434.1 L1015.0,435.8 L1016.0,437.5 L1016.9,439.3 L1017.8,441.0 L1018.7,442.7 L1019.7,444.5 L1020.6,446.2 L1021.5,448.0 L1022.4,449.7 L1023.2,451.5 L1024.1,453.2 L1025.0,455.0 L1025.9,456.7 L1026.8,458.5 L1027.6,460.3 L1028.5,462.1 L1029.3,463.8 L1030.2,465.6 L1031.1,467.4 L1031.9,469.2 L1032.7,471.0 L1033.6,472.8 L1034.4,474.6 L1035.2,476.4 L1036.1,478.2 L1036.9,480.0 L1037.7,481.8 L1038.5,483.6 L1039.3,485.5 L1040.1,487.3 L1040.9,489.1 L1041.7,490.9 L1042.5,492.8 L1043.3,494.6 L1044.1,496.4 L1044.9,498.3 L1045.7,500.1 L1046.5,501.9 L1047.3,503.8 L1048.1,505.6 L1048.9,507.5 L1049.6,509.3 L1050.4,511.1 L1051.2,513.0 L1051.9,514.8 L1052.7,516.7 L1053.5,518.5 L1054.3,520.4 L1055.0,522.3 L1055.8,524.1 L1056.5,526.0 L1057.3,527.8 L1058.1,529.7 L1058.8,531.5 L1059.6,533.4 L1060.3,535.3 L1061.1,537.1 L1061.9,539.0 L1062.6,540.8 L1063.4,542.7 L1064.1,544.6 L1064.9,546.4 L1065.6,548.3 L1066.4,550.2 L1067.1,552.0 L1067.9,553.9 L1068.7,555.8 L1069.4,557.6 L1070.2,559.5 L1070.9,561.3 L1071.7,563.2 L1072.4,565.1 L1073.2,566.9 L1074.0,568.8 L1074.7,570.7 L1075.5,572.5 L1076.2,574.4 L1077.0,576.2 L1077.8,578.1 L1078.5,579.9 L1079.3,581.8 L1080.1,583.7 L1080.8,585.5 L1081.6,587.4 L1082.4,589.2 L1083.2,591.1 L1083.9,592.9 L1084.7,594.8 L1085.5,596.6 L1086.3,598.5 L1087.0,600.3 L1087.8,602.2 L1088.6,604.0 L1089.4,605.8 L1090.2,607.7 L1091.0,609.5 L1091.7,611.4 L1092.5,613.2 L1093.3,615.1 L1094.1,616.9 L1094.9,618.7 L1095.7,620.6 L1096.5,622.4 L1097.2,624.3 L1098.0,626.1 L1098.8,627.9 L1099.6,629.8 L1100.4,631.6 L1101.2,633.5 L1102.0,635.3 L1102.8,637.1 L1103.6,639.0 L1104.4,640.8 L1105.2,642.6 L1106.0,644.5 L1106.8,646.3 L1107.6,648.1 L1108.4,650.0 L1109.2,651.8 L1110.0,653.6 L1110.8,655.5 L1111.6,657.3 L1112.4,659.1 L1113.2,661.0 L1113.9,662.8 L1114.7,664.6 L1115.5,666.4 L1116.3,668.3 L1117.1,670.1 L1117.9,671.9 L1118.7,673.8 L1119.5,675.6 L1120.4,677.4 L1121.2,679.3 L1122.0,681.1 L1122.8,682.9 L1123.6,684.7 L1124.4,686.6 L1125.2,688.4 L1126.0,690.2 L1126.8,692.0 L1127.6,693.9 L1128.4,695.7 L1129.2,697.5 L1130.0,699.4 L1130.8,701.2 L1131.6,703.0 L1132.4,704.8 L1133.2,706.7 L1134.0,708.5 L1134.8,710.3 L1135.5,712.2 L1136.3,714.0 L1137.1,715.8 L1137.9,717.6 L1138.7,719.5 L1139.5,721.3 L1140.3,723.1 L1141.1,725.0 L1141.9,726.8 L1142.7,728.6 L1143.5,730.4 L1144.3,732.3 L1145.1,734.1 L1145.9,735.9 L1146.7,737.8 L1147.5,739.6 L1148.3,741.4 L1149.1,743.2 L1149.8,745.1 L1150.6,746.9 L1151.4,748.7 L1152.2,750.6 L1153.0,752.4 L1153.8,754.2 L1154.6,756.1 L1155.3,757.9 L1156.1,759.7 L1156.9,761.6 L1157.7,763.4 L1158.5,765.2 L1159.2,767.1 L1160.0,768.9 L1160.8,770.8 L1161.6,772.6 L1162.4,774.4 L1163.1,776.3 L1163.9,778.1 L1164.7,780.0 L1165.4,781.8 L1166.2,783.6 L1167.0,785.5 L1167.7,787.3 L1168.5,789.2 L1169.3,791.0 L1170.0,792.8 L1170.8,794.7 L1171.6,796.5 L1172.3,798.4 L1173.1,800.2 L1173.8,802.1 L1174.6,803.9 L1175.3,805.8 L1176.1,807.6 L1176.8,809.5 L1177.6,811.3 L1178.3,813.2 L1179.1,815.0 L1179.8,816.9 L1180.6,818.7 L1181.3,820.6 L1182.1,822.4 L1182.8,824.3 L1183.5,826.2 L1184.3,828.0 L1185.0,829.9 L1185.7,831.7 L1186.5,833.6 L1187.2,835.5 L1187.9,837.3 L1188.7,839.2 L1189.4,841.1 L1190.1,842.9 L1190.8,844.8 L1191.5,846.7 L1192.3,848.5 L1193.0,850.4 L1193.7,852.3 L1194.4,854.1 L1195.1,856.0 L1195.8,857.9 L1196.5,859.8 L1197.2,861.6 L1197.9,863.5 L1198.6,865.4 L1199.3,867.3 L1200.0,869.2 L1200.7,871.0 L1201.4,872.9 L1202.1,874.8 L1202.8,876.7 L1203.4,878.6 L1204.1,880.5 L1204.8,882.4 L1205.5,884.3 L1206.2,886.1 L1206.8,888.0 L1207.5,889.9 L1208.2,891.8 L1208.8,893.7 L1209.5,895.6 L1210.2,897.5 L1210.8,899.4 L1211.5,901.3 L1212.2,903.2 L1212.8,905.1 L1213.5,907.0 L1214.1,908.9 L1214.8,910.8 L1215.4,912.7 L1216.1,914.6 L1216.7,916.5 L1217.4,918.4 L1218.0,920.3 L1218.7,922.2 L1219.3,924.1 L1220.0,926.0 L1220.6,927.9 L1221.2,929.8 L1221.9,931.8 L1222.5,933.7 L1223.1,935.6 L1223.8,937.5 L1224.4,939.4 L1225.0,941.3 L1225.7,943.2 L1226.3,945.1 L1226.9,947.0 L1227.6,948.9 L1228.2,950.8 L1228.8,952.7 L1229.4,954.7 L1230.1,956.6 L1230.7,958.5 L1231.3,960.4 L1231.9,962.3 L1232.5,964.2 L1233.2,966.1 L1233.8,968.0 L1234.4,969.9 L1235.0,971.8 L1235.6,973.7 L1236.2,975.7 L1236.8,977.6 L1237.5,979.5 L1238.1,981.4 L1238.7,983.3 L1239.3,985.2 L1239.9,987.1 L1240.5,989.0 L1241.1,990.9 L1241.7,992.8 L1242.3,994.7 L1243.0,996.6 L1243.6,998.5 L1244.2,1000.4 L1244.8,1002.3 L1245.4,1004.2 L1246.0,1006.1 L1246.6,1008.0 L1247.2,1010.0 L1247.8,1011.9 L1248.4,1013.8 L1249.0,1015.7 L1249.6,1017.5 L1250.2,1019.4 L1250.8,1021.3 L1251.4,1023.2 L1252.0,1025.1 L1252.6,1027.0 L1253.2,1028.9 L1253.8,1030.8 L1254.4,1032.7 L1255.0,1034.6 L1255.6,1036.5 L1256.2,1038.4 L1256.8,1040.3 L1257.5,1042.2 L1258.1,1044.0 L1258.7,1045.9 L1259.3,1047.8 L1259.9,1049.7 L1260.5,1051.6 L1261.1,1053.5 L1261.7,1055.3 L1262.3,1057.2 L1262.9,1059.1 L1263.5,1061.0 L1264.2,1062.8 L1264.8,1064.7 L1265.4,1066.6 L1266.0,1068.4 L1266.7,1070.3 L1267.3,1072.2 L1267.9,1074.1 L1268.6,1075.9 L1269.2,1077.8 L1269.9,1079.6 L1270.5,1081.5 L1271.2,1083.4 L1271.9,1085.2 L1272.5,1087.1 L1273.2,1088.9 L1273.9,1090.8 L1274.6,1092.6 L1275.3,1094.5 L1276.0,1096.3 L1276.7,1098.2 L1277.4,1100.0 L1278.1,1101.9 L1278.8,1103.7 L1279.6,1105.5 L1280.3,1107.4 L1281.1,1109.2 L1281.8,1111.0 L1282.6,1112.9 L1283.4,1114.7 L1284.2,1116.5 L1285.0,1118.3 L1285.8,1120.2 L1286.6,1122.0 L1287.4,1123.8 L1288.2,1125.6 L1289.1,1127.4 L1289.9,1129.2 L1290.8,1131.0 L1291.6,1132.9 L1292.5,1134.7 L1293.4,1136.5 L1294.3,1138.3 L1295.2,1140.1 L1296.1,1141.9 L1297.0,1143.7 L1297.9,1145.4 L1298.8,1147.2 L1299.8,1149.0 L1300.7,1150.8 L1301.7,1152.6 L1302.7,1154.4 L1303.6,1156.1 L1304.6,1157.9 L1305.6,1159.7 L1306.6,1161.5 L1307.6,1163.2 L1308.7,1165.0 L1309.7,1166.7 L1310.7,1168.5 L1311.8,1170.3 L1312.9,1172.0 L1313.9,1173.8 L1315.0,1175.5 L1316.1,1177.2 L1317.2,1179.0 L1318.3,1180.7 L1319.4,1182.5 L1320.5,1184.2 L1321.7,1185.9 L1322.8,1187.7 L1324.0,1189.4 L1325.1,1191.1 L1326.3,1192.8 L1327.4,1194.5 L1328.6,1196.2 L1329.8,1197.9 L1330.9,1199.6 L1332.1,1201.3 L1333.2,1203.0 L1334.4,1204.7 L1335.5,1206.4 L1336.6,1208.1 L1337.8,1209.7 L1338.9,1211.4 L1340.0,1213.1 L1341.1,1214.7 L1342.1,1216.4 L1343.2,1218.0 L1344.3,1219.6 L1345.3,1221.3 L1346.4,1222.9 L1347.4,1224.5 L1348.5,1226.1 L1349.5,1227.7 L1350.6,1229.3 L1351.7,1230.9 L1352.7,1232.5 L1353.8,1234.1 L1354.9,1235.6 L1356.1,1237.2 L1357.2,1238.7 L1358.4,1240.3 L1359.5,1241.8 L1360.8,1243.3 L1362.0,1244.8 L1363.2,1246.4 L1364.5,1247.8 L1365.8,1249.3 L1367.1,1250.8 L1368.4,1252.3 L1369.7,1253.7 L1371.1,1255.2 L1372.4,1256.6 L1373.8,1258.1 L1375.2,1259.5 L1376.6,1260.9 L1378.1,1262.3 L1379.5,1263.7 L1381.0,1265.0 L1382.4,1266.4 L1383.9,1267.8 L1385.4,1269.1 L1386.9,1270.4 L1388.4,1271.7 L1390.0,1273.0 L1391.5,1274.3 L1393.1,1275.6 L1394.6,1276.9 L1396.2,1278.1 L1397.8,1279.4 L1399.4,1280.6 L1401.0,1281.8 L1402.6,1283.0 L1404.2,1284.2 L1405.9,1285.4 L1407.5,1286.6 L1409.1,1287.7 L1410.8,1288.9 L1412.4,1290.0 L1414.1,1291.1 L1415.8,1292.2 L1417.4,1293.3 L1419.1,1294.4 L1420.8,1295.4 L1422.5,1296.5 L1424.2,1297.5 L1425.9,1298.5 L1427.6,1299.5 L1429.4,1300.6 L1431.1,1301.5 L1432.8,1302.5 L1434.6,1303.5 L1436.3,1304.5 L1438.1,1305.4 L1439.8,1306.4 L1441.6,1307.3 L1443.3,1308.2 L1445.1,1309.1 L1446.9,1310.0 L1448.7,1310.9 L1450.5,1311.8 L1452.3,1312.7 L1454.1,1313.5 L1455.9,1314.4 L1457.7,1315.2 L1459.5,1316.1 L1461.3,1316.9 L1463.1,1317.7 L1465.0,1318.5 L1466.8,1319.3 L1468.6,1320.1 L1470.5,1320.9 L1472.3,1321.7 L1474.2,1322.5 L1476.0,1323.2 L1477.9,1324.0 L1479.7,1324.8 L1481.6,1325.5 L1483.5,1326.2 L1485.3,1327.0 L1487.2,1327.7 L1489.1,1328.4 L1490.9,1329.1 L1492.8,1329.8 L1494.7,1330.5 L1496.6,1331.2 L1498.5,1331.9 L1500.4,1332.6 L1502.3,1333.3 L1504.2,1334.0 L1506.1,1334.6 L1508.0,1335.3 L1509.9,1335.9 L1511.8,1336.6 L1513.7,1337.2 L1515.6,1337.8 L1517.5,1338.5 L1519.4,1339.1 L1521.3,1339.7 L1523.3,1340.3 L1525.2,1340.9 L1527.1,1341.5 L1529.0,1342.1 L1530.9,1342.7 L1532.9,1343.3 L1534.8,1343.9 L1536.7,1344.4 L1538.6,1345.0 L1540.6,1345.6 L1542.5,1346.1 L1544.4,1346.7 L1546.3,1347.2 L1548.3,1347.8 L1550.2,1348.3 L1552.1,1348.9 L1554.1,1349.4 L1556.0,1349.9 L1557.9,1350.4 L1559.8,1350.9 L1561.8,1351.5 L1563.7,1352.0 L1565.7,1352.5 L1567.6,1353.0 L1569.5,1353.5 L1571.5,1354.0 L1573.4,1354.4 L1575.3,1354.9 L1577.3,1355.4 L1579.2,1355.9 L1581.2,1356.4 L1583.1,1356.8 L1585.0,1357.3 L1587.0,1357.7 L1588.9,1358.2 L1590.9,1358.6 L1592.8,1359.1 L1594.8,1359.5 L1596.7,1360.0 L1598.7,1360.4 L1600.6,1360.8 L1602.5,1361.3 L1604.5,1361.7 L1606.4,1362.1 L1608.4,1362.5 L1610.3,1362.9 L1612.3,1363.3 L1614.2,1363.7 L1616.2,1364.1 L1618.2,1364.5 L1620.1,1364.9 L1622.1,1365.3 L1624.0,1365.7 L1626.0,1366.1 L1627.9,1366.5 L1629.9,1366.9 L1631.8,1367.2 L1633.8,1367.6 L1635.8,1368.0 L1637.7,1368.4 L1639.7,1368.7 L1641.6,1369.1 L1643.6,1369.4 L1645.6,1369.8 L1647.5,1370.1 L1649.5,1370.5 L1651.4,1370.8 L1653.4,1371.2 L1655.4,1371.5 L1657.3,1371.9 L1659.3,1372.2 L1661.3,1372.5 L1663.2,1372.9 L1665.2,1373.2 L1667.2,1373.5 L1669.1,1373.8 L1671.1,1374.2 L1673.1,1374.5 L1675.0,1374.8 L1677.0,1375.1 L1679.0,1375.4 L1680.9,1375.7 L1682.9,1376.0 L1684.9,1376.3 L1686.8,1376.6 L1688.8,1376.9 L1690.8,1377.2 L1692.8,1377.5 L1694.7,1377.8 L1696.7,1378.1 L1698.7,1378.4 L1700.6,1378.7 L1702.6,1379.0 L1704.6,1379.3 L1706.6,1379.5 L1708.5,1379.8 L1710.5,1380.1 L1712.5,1380.4 L1714.5,1380.7 L1716.5,1380.9 L1718.4,1381.2 L1720.4,1381.5 L1722.4,1381.8 L1724.4,1382.0 L1726.3,1382.3 L1728.3,1382.6 L1730.3,1382.8 L1732.3,1383.1 L1734.3,1383.3 L1736.2,1383.6 L1738.2,1383.9 L1740.2,1384.1 L1742.2,1384.4 L1744.2,1384.6 L1746.2,1384.9 L1748.1,1385.2 L1750.1,1385.4 L1752.1,1385.7 L1754.1,1385.9 L1756.1,1386.2 L1758.1,1386.4 L1760.0,1386.7 L1762.0,1386.9 L1764.0,1387.2 L1766.0,1387.4 L1768.0,1387.7 L1770.0,1387.9 L1772.0,1388.1 L1773.9,1388.4 L1775.9,1388.6 L1777.9,1388.9 L1779.9,1389.1 L1781.9,1389.4 L1783.9,1389.6 L1785.9,1389.9 L1787.9,1390.1 L1789.8,1390.3 L1791.8,1390.6 L1793.8,1390.8 L1795.8,1391.1 L1797.8,1391.3 L1799.8,1391.5 L1801.8,1391.8 L1803.8,1392.0 L1805.8,1392.3 L1807.7,1392.5 L1809.7,1392.8 L1811.7,1393.0 L1813.7,1393.2 L1815.7,1393.5 L1817.7,1393.7 L1819.7,1394.0 L1821.7,1394.2 L1823.7,1394.4 L1825.7,1394.7 L1827.7,1394.9 L1829.7,1395.2 L1831.6,1395.4 L1833.6,1395.6 L1835.6,1395.9 L1837.6,1396.1 L1839.6,1396.3 L1841.6,1396.6 L1843.6,1396.8 L1845.6,1397.1 L1847.6,1397.3 L1849.6,1397.5 L1851.6,1397.8 L1853.6,1398.0 L1855.6,1398.2 L1857.6,1398.4 L1859.6,1398.7 L1861.5,1398.9 L1863.5,1399.1 L1865.5,1399.4 L1867.5,1399.6 L1869.5,1399.8 L1871.5,1400.0 L1873.5,1400.2 L1875.5,1400.5 L1877.5,1400.7 L1879.5,1400.9 L1881.5,1401.1 L1883.5,1401.3 L1885.5,1401.5 L1887.5,1401.8 L1889.5,1402.0 L1891.5,1402.2 L1893.5,1402.4 L1895.5,1402.6 L1897.4,1402.8 L1899.4,1403.0 L1901.4,1403.2 L1903.4,1403.4 L1905.4,1403.6 L1907.4,1403.8 L1909.4,1404.0 L1911.4,1404.2 L1913.4,1404.4 L1915.4,1404.6 L1917.4,1404.8 L1919.4,1405.0 L1921.4,1405.1 L1923.4,1405.3 L1925.4,1405.5 L1927.4,1405.7 L1929.4,1405.9 L1931.4,1406.0 L1933.3,1406.2 L1935.3,1406.4 L1937.3,1406.6 L1939.3,1406.7 L1941.3,1406.9 L1943.3,1407.1 L1945.3,1407.2 L1947.3,1407.4 L1949.3,1407.5 L1951.3,1407.7 L1953.3,1407.8 L1955.3,1408.0 L1957.3,1408.1 L1959.3,1408.3 L1961.3,1408.4 L1963.2,1408.6 L1965.2,1408.7 L1967.2,1408.8 L1969.2,1409.0 L1971.2,1409.1 L1973.2,1409.2 L1975.2,1409.3 L1977.2,1409.5 L1979.2,1409.6 L1981.2,1409.7 L1983.2,1409.8 L1985.2,1409.9 L1987.1,1410.0 L1989.1,1410.1 L1991.1,1410.2 L1993.1,1410.3 L1995.1,1410.4 L1997.1,1410.5 L1999.1,1410.6 L2001.1,1410.7 L2003.1,1410.8 L2005.1,1410.9 L2007.0,1410.9 L2009.0,1411.0 L2011.0,1411.1 L2013.0,1411.2 L2015.0,1411.2 L2017.0,1411.3 L2019.0,1411.3 L2021.0,1411.4 L2022.9,1411.4 L2024.9,1411.5 L2026.0,1411.5" stroke="#38AE6C"/>
<path d="M256.0,156.0 L257.9,156.5 L259.8,157.0 L261.8,157.4 L263.7,157.9 L265.6,158.3 L267.6,158.8 L269.5,159.2 L271.4,159.6 L273.4,160.0 L275.3,160.4 L277.3,160.8 L279.3,161.2 L281.2,161.5 L283.2,161.9 L285.2,162.2 L287.1,162.6 L289.1,162.9 L291.1,163.2 L293.1,163.5 L295.1,163.9 L297.0,164.2 L299.0,164.4 L301.0,164.7 L303.0,165.0 L305.0,165.3 L307.0,165.5 L309.0,165.8 L311.0,166.0 L313.0,166.3 L315.0,166.5 L317.0,166.8 L319.0,167.0 L321.0,167.2 L323.0,167.4 L325.0,167.6 L327.0,167.8 L329.0,168.0 L331.0,168.2 L333.0,168.4 L335.0,168.6 L337.0,168.8 L339.0,169.0 L341.0,169.2 L343.0,169.3 L345.0,169.5 L347.0,169.7 L349.0,169.8 L351.0,170.0 L353.0,170.2 L355.0,170.4 L357.0,170.5 L359.0,170.7 L360.9,170.9 L362.9,171.1 L364.9,171.3 L366.9,171.6 L368.8,171.8 L370.8,172.1 L372.8,172.3 L374.7,172.6 L376.7,172.9 L378.6,173.3 L380.6,173.6 L382.5,174.0 L384.4,174.4 L386.4,174.9 L388.3,175.3 L390.2,175.8 L392.1,176.4 L394.1,176.9 L396.0,177.5 L397.9,178.2 L399.8,178.8 L401.7,179.5 L403.5,180.2 L405.4,180.9 L407.3,181.6 L409.2,182.3 L411.0,183.1 L412.9,183.8 L414.7,184.5 L416.6,185.1 L418.5,185.8 L420.3,186.4 L422.2,186.9 L424.1,187.4 L426.0,187.8 L427.9,188.1 L429.8,188.4 L431.8,188.7 L433.7,188.9 L435.7,189.0 L437.6,189.2 L439.6,189.3 L441.6,189.4 L443.6,189.5 L445.6,189.5 L447.6,189.6 L449.6,189.7 L451.6,189.8 L453.6,189.9 L455.6,190.1 L457.6,190.2 L459.6,190.4 L461.7,190.5 L463.7,190.6 L465.7,190.8 L467.7,190.9 L469.7,191.0 L471.7,191.1 L473.7,191.2 L475.7,191.3 L477.7,191.4 L479.8,191.5 L481.8,191.6 L483.8,191.7 L485.8,191.8 L487.8,191.8 L489.8,191.9 L491.8,192.0 L493.8,192.0 L495.8,192.1 L497.8,192.1 L499.8,192.2 L501.8,192.2 L503.8,192.3 L505.8,192.3 L507.8,192.3 L509.7,192.4 L511.7,192.4 L513.7,192.4 L515.7,192.4 L517.7,192.5 L519.7,192.5 L521.7,192.5 L523.7,192.5 L525.7,192.5 L527.7,192.5 L529.7,192.5 L531.7,192.5 L533.6,192.5 L535.6,192.5 L537.6,192.5 L539.6,192.5 L541.6,192.5 L543.6,192.5 L545.6,192.5 L547.6,192.5 L549.5,192.5 L551.5,192.5 L553.5,192.5 L555.5,192.5 L557.5,192.5 L559.5,192.5 L561.5,192.5 L563.4,192.5 L565.4,192.5 L567.4,192.4 L569.4,192.4 L571.4,192.4 L573.4,192.4 L575.4,192.4 L577.4,192.4 L579.3,192.4 L581.3,192.5 L583.3,192.5 L585.3,192.5 L587.3,192.5 L589.3,192.5 L591.3,192.5 L593.3,192.5 L595.2,192.5 L597.2,192.5 L599.2,192.6 L601.2,192.6 L603.2,192.6 L605.2,192.6 L607.2,192.7 L609.2,192.7 L611.2,192.7 L613.2,192.7 L615.2,192.8 L617.2,192.8 L619.1,192.8 L621.1,192.9 L623.1,192.9 L625.1,193.0 L627.1,193.0 L629.1,193.0 L631.1,193.1 L633.1,193.1 L635.1,193.2 L637.1,193.2 L639.1,193.3 L641.1,193.3 L643.1,193.4 L645.1,193.4 L647.2,193.5 L649.2,193.6 L651.2,193.6 L653.2,193.7 L655.2,193.7 L657.2,193.8 L659.2,193.9 L661.2,193.9 L663.2,194.0 L665.3,194.1 L667.3,194.2 L669.3,194.2 L671.3,194.3 L673.3,194.4 L675.4,194.5 L677.4,194.5 L679.4,194.6 L681.4,194.7 L683.5,194.8 L685.5,194.9 L687.5,195.0 L689.5,195.1 L691.6,195.1 L693.6,195.2 L695.6,195.3 L697.7,195.4 L699.7,195.5 L701.7,195.6 L703.8,195.8 L705.8,195.9 L707.8,196.0 L709.8,196.1 L711.9,196.2 L713.9,196.3 L715.9,196.5 L718.0,196.6 L720.0,196.7 L722.0,196.9 L724.0,197.0 L726.0,197.2 L728.1,197.3 L730.1,197.5 L732.1,197.6 L734.1,197.8 L736.1,197.9 L738.1,198.1 L740.1,198.3 L742.1,198.5 L744.1,198.7 L746.1,198.8 L748.1,199.0 L750.1,199.2 L752.1,199.5 L754.1,199.7 L756.1,199.9 L758.0,200.1 L760.0,200.3 L762.0,200.6 L764.0,200.8 L765.9,201.0 L767.9,201.3 L769.8,201.6 L771.8,201.8 L773.7,202.1 L775.7,202.4 L777.6,202.7 L779.5,202.9 L781.4,203.2 L783.4,203.6 L785.3,203.9 L787.2,204.2 L789.1,204.6 L791.0,204.9 L792.9,205.3 L794.8,205.7 L796.6,206.2 L798.5,206.6 L800.4,207.1 L802.2,207.6 L804.1,208.2 L805.9,208.7 L807.8,209.3 L809.6,210.0 L811.4,210.6 L813.3,211.3 L815.1,212.1 L816.9,212.8 L818.7,213.6 L820.4,214.5 L822.2,215.3 L824.0,216.2 L825.8,217.2 L827.5,218.1 L829.2,219.1 L831.0,220.1 L832.7,221.2 L834.4,222.2 L836.1,223.3 L837.8,224.4 L839.5,225.6 L841.1,226.7 L842.8,227.9 L844.4,229.1 L846.1,230.4 L847.7,231.6 L849.3,232.9 L850.9,234.2 L852.5,235.5 L854.0,236.8 L855.6,238.1 L857.1,239.5 L858.7,240.8 L860.2,242.2 L861.7,243.6 L863.2,245.0 L864.6,246.4 L866.1,247.9 L867.5,249.3 L869.0,250.8 L870.4,252.2 L871.8,253.7 L873.2,255.2 L874.5,256.7 L875.9,258.2 L877.2,259.7 L878.6,261.2 L879.9,262.7 L881.2,264.3 L882.5,265.8 L883.8,267.4 L885.0,268.9 L886.3,270.5 L887.5,272.1 L888.8,273.7 L890.0,275.3 L891.2,276.9 L892.4,278.5 L893.6,280.1 L894.8,281.7 L896.0,283.3 L897.1,284.9 L898.3,286.6 L899.4,288.2 L900.6,289.9 L901.7,291.5 L902.8,293.2 L903.9,294.8 L905.0,296.5 L906.1,298.2 L907.2,299.8 L908.3,301.5 L909.4,303.2 L910.4,304.9 L911.5,306.6 L912.6,308.3 L913.6,310.0 L914.6,311.7 L915.7,313.4 L916.7,315.1 L917.7,316.8 L918.8,318.5 L919.8,320.2 L920.8,321.9 L921.8,323.6 L922.8,325.3 L923.8,327.0 L924.8,328.7 L925.8,330.5 L926.8,332.2 L927.8,333.9 L928.8,335.6 L929.7,337.3 L930.7,339.1 L931.7,340.8 L932.7,342.5 L933.7,344.2 L934.6,346.0 L935.6,347.7 L936.6,349.4 L937.6,351.1 L938.5,352.9 L939.5,354.6 L940.5,356.3 L941.4,358.1 L942.4,359.8 L943.4,361.5 L944.4,363.3 L945.3,365.0 L946.3,366.7 L947.3,368.5 L948.3,370.2 L949.3,372.0 L950.3,373.7 L951.2,375.4 L952.2,377.2 L953.2,378.9 L954.2,380.7 L955.2,382.4 L956.2,384.1 L957.3,385.9 L958.3,387.6 L959.3,389.3 L960.3,391.1 L961.4,392.8 L962.4,394.5 L963.5,396.2 L964.5,397.9 L965.6,399.6 L966.7,401.3 L967.8,403.0 L968.9,404.7 L970.0,406.3 L971.2,408.0 L972.3,409.6 L973.5,411.3 L974.7,412.9 L975.9,414.5 L977.1,416.1 L978.3,417.6 L979.6,419.2 L980.8,420.7 L982.1,422.3 L983.4,423.8 L984.8,425.3 L986.1,426.8 L987.5,428.2 L988.9,429.6 L990.3,431.1 L991.7,432.5 L993.1,433.8 L994.6,435.2 L996.0,436.6 L997.5,437.9 L999.0,439.3 L1000.5,440.6 L1002.0,442.0 L1003.4,443.3 L1004.9,444.7 L1006.4,446.0 L1007.8,447.4 L1009.3,448.8 L1010.7,450.1 L1012.2,451.5 L1013.6,452.9 L1015.0,454.3 L1016.4,455.7 L1017.8,457.1 L1019.2,458.5 L1020.6,459.9 L1022.0,461.3 L1023.4,462.8 L1024.8,464.2 L1026.1,465.6 L1027.5,467.1 L1028.9,468.5 L1030.2,470.0 L1031.6,471.4 L1033.0,472.9 L1034.3,474.3 L1035.7,475.8 L1037.0,477.2 L1038.4,478.7 L1039.8,480.1 L1041.1,481.6 L1042.5,483.0 L1043.8,484.5 L1045.2,486.0 L1046.6,487.4 L1047.9,488.9 L1049.3,490.4 L1050.7,491.8 L1052.1,493.3 L1053.4,494.8 L1054.8,496.2 L1056.2,497.7 L1057.6,499.1 L1058.9,500.6 L1060.3,502.1 L1061.7,503.5 L1063.1,505.0 L1064.5,506.5 L1065.8,507.9 L1067.2,509.4 L1068.6,510.8 L1070.0,512.3 L1071.4,513.7 L1072.8,515.2 L1074.2,516.6 L1075.6,518.1 L1077.0,519.5 L1078.4,521.0 L1079.8,522.4 L1081.2,523.9 L1082.6,525.3 L1084.0,526.8 L1085.4,528.2 L1086.9,529.6 L1088.3,531.1 L1089.7,532.5 L1091.1,533.9 L1092.5,535.3 L1094.0,536.7 L1095.4,538.2 L1096.8,539.6 L1098.3,541.0 L1099.7,542.4 L1101.2,543.8 L1102.6,545.2 L1104.1,546.6 L1105.5,548.0 L1107.0,549.3 L1108.4,550.7 L1109.9,552.1 L1111.3,553.5 L1112.8,554.8 L1114.3,556.2 L1115.7,557.6 L1117.2,558.9 L1118.7,560.3 L1120.2,561.6 L1121.7,562.9 L1123.1,564.3 L1124.6,565.6 L1126.1,566.9 L1127.6,568.2 L1129.1,569.5 L1130.6,570.8 L1132.2,572.1 L1133.7,573.4 L1135.2,574.7 L1136.7,576.0 L1138.2,577.3 L1139.8,578.5 L1141.3,579.8 L1142.8,581.1 L1144.4,582.3 L1145.9,583.6 L1147.4,584.8 L1149.0,586.1 L1150.5,587.3 L1152.1,588.5 L1153.6,589.8 L1155.2,591.0 L1156.7,592.2 L1158.3,593.4 L1159.9,594.6 L1161.4,595.8 L1163.0,597.1 L1164.6,598.3 L1166.2,599.5 L1167.7,600.7 L1169.3,601.9 L1170.9,603.0 L1172.5,604.2 L1174.1,605.4 L1175.7,606.6 L1177.2,607.8 L1178.8,609.0 L1180.4,610.1 L1182.0,611.3 L1183.6,612.5 L1185.2,613.7 L1186.8,614.8 L1188.4,616.0 L1190.1,617.2 L1191.7,618.3 L1193.3,619.5 L1194.9,620.6 L1196.5,621.8 L1198.1,623.0 L1199.7,624.1 L1201.4,625.3 L1203.0,626.4 L1204.6,627.6 L1206.2,628.7 L1207.9,629.9 L1209.5,631.0 L1211.1,632.2 L1212.7,633.4 L1214.4,634.5 L1216.0,635.7 L1217.6,636.8 L1219.3,638.0 L1220.9,639.1 L1222.5,640.3 L1224.2,641.4 L1225.8,642.6 L1227.5,643.7 L1229.1,644.9 L1230.7,646.1 L1232.4,647.2 L1234.0,648.4 L1235.7,649.5 L1237.3,650.7 L1238.9,651.9 L1240.6,653.0 L1242.2,654.2 L1243.9,655.4 L1245.5,656.5 L1247.2,657.7 L1248.8,658.9 L1250.5,660.1 L1252.1,661.2 L1253.8,662.4 L1255.4,663.6 L1257.1,664.8 L1258.7,666.0 L1260.3,667.2 L1262.0,668.4 L1263.6,669.6 L1265.3,670.8 L1266.9,672.0 L1268.6,673.2 L1270.2,674.4 L1271.9,675.6 L1273.5,676.8 L1275.2,678.0 L1276.8,679.3 L1278.5,680.5 L1280.1,681.7 L1281.7,682.9 L1283.4,684.1 L1285.0,685.3 L1286.7,686.5 L1288.3,687.8 L1290.0,689.0 L1291.6,690.2 L1293.2,691.4 L1294.9,692.5 L1296.5,693.7 L1298.2,694.9 L1299.8,696.1 L1301.4,697.3 L1303.1,698.4 L1304.7,699.6 L1306.3,700.7 L1308.0,701.9 L1309.6,703.0 L1311.2,704.1 L1312.9,705.2 L1314.5,706.3 L1316.1,707.4 L1317.8,708.5 L1319.4,709.6 L1321.0,710.7 L1322.6,711.7 L1324.3,712.7 L1325.9,713.8 L1327.5,714.8 L1329.1,715.8 L1330.7,716.8 L1332.4,717.8 L1334.0,718.8 L1335.6,719.8 L1337.2,720.8 L1338.8,721.8 L1340.4,722.8 L1342.0,723.8 L1343.6,724.8 L1345.2,725.9 L1346.8,726.9 L1348.5,728.0 L1350.1,729.1 L1351.7,730.2 L1353.3,731.3 L1354.8,732.5 L1356.4,733.7 L1358.0,734.9 L1359.6,736.1 L1361.2,737.3 L1362.8,738.6 L1364.3,739.8 L1365.9,741.1 L1367.5,742.4 L1369.0,743.8 L1370.6,745.1 L1372.1,746.5 L1373.6,747.8 L1375.1,749.2 L1376.6,750.6 L1378.1,752.0 L1379.6,753.4 L1381.1,754.9 L1382.6,756.3 L1384.0,757.8 L1385.5,759.2 L1386.9,760.7 L1388.3,762.2 L1389.7,763.7 L1391.1,765.2 L1392.5,766.7 L1393.8,768.3 L1395.2,769.8 L1396.5,771.3 L1397.8,772.9 L1399.1,774.4 L1400.4,776.0 L1401.6,777.5 L1402.9,779.1 L1404.1,780.7 L1405.4,782.3 L1406.6,783.9 L1407.8,785.4 L1409.0,787.0 L1410.1,788.7 L1411.3,790.3 L1412.4,791.9 L1413.6,793.5 L1414.7,795.1 L1415.8,796.8 L1416.9,798.4 L1418.0,800.1 L1419.1,801.7 L1420.2,803.4 L1421.3,805.1 L1422.3,806.7 L1423.4,808.4 L1424.4,810.1 L1425.5,811.8 L1426.5,813.4 L1427.5,815.1 L1428.5,816.8 L1429.5,818.5 L1430.5,820.2 L1431.5,821.9 L1432.5,823.7 L1433.5,825.4 L1434.5,827.1 L1435.4,828.8 L1436.4,830.6 L1437.4,832.3 L1438.3,834.0 L1439.3,835.8 L1440.2,837.5 L1441.2,839.2 L1442.1,841.0 L1443.1,842.7 L1444.0,844.5 L1445.0,846.3 L1445.9,848.0 L1446.8,849.8 L1447.8,851.6 L1448.7,853.3 L1449.6,855.1 L1450.6,856.9 L1451.5,858.6 L1452.4,860.4 L1453.4,862.2 L1454.3,864.0 L1455.2,865.8 L1456.2,867.5 L1457.1,869.3 L1458.0,871.1 L1458.9,872.9 L1459.9,874.7 L1460.8,876.5 L1461.7,878.3 L1462.6,880.1 L1463.6,881.9 L1464.5,883.7 L1465.4,885.5 L1466.3,887.3 L1467.2,889.1 L1468.2,890.9 L1469.1,892.7 L1470.0,894.5 L1470.9,896.3 L1471.8,898.1 L1472.7,899.9 L1473.6,901.7 L1474.6,903.5 L1475.5,905.3 L1476.4,907.1 L1477.3,908.9 L1478.2,910.7 L1479.1,912.5 L1480.0,914.3 L1480.9,916.1 L1481.8,917.9 L1482.7,919.7 L1483.7,921.5 L1484.6,923.2 L1485.5,925.0 L1486.4,926.8 L1487.3,928.6 L1488.2,930.4 L1489.1,932.2 L1490.0,934.0 L1490.9,935.8 L1491.8,937.5 L1492.7,939.3 L1493.6,941.1 L1494.5,942.9 L1495.4,944.7 L1496.3,946.4 L1497.2,948.2 L1498.1,950.0 L1499.1,951.7 L1500.0,953.5 L1500.9,955.3 L1501.8,957.0 L1502.7,958.8 L1503.7,960.6 L1504.6,962.3 L1505.5,964.1 L1506.4,965.8 L1507.4,967.6 L1508.3,969.3 L1509.3,971.0 L1510.2,972.8 L1511.2,974.5 L1512.1,976.3 L1513.1,978.0 L1514.0,979.7 L1515.0,981.5 L1516.0,983.2 L1517.0,984.9 L1517.9,986.6 L1518.9,988.3 L1519.9,990.1 L1520.9,991.8 L1521.9,993.5 L1522.9,995.2 L1523.9,996.9 L1525.0,998.6 L1526.0,1000.3 L1527.0,1002.0 L1528.1,1003.7 L1529.1,1005.3 L1530.2,1007.0 L1531.2,1008.7 L1532.3,1010.4 L1533.4,1012.0 L1534.5,1013.7 L1535.6,1015.4 L1536.7,1017.0 L1537.8,1018.7 L1538.9,1020.3 L1540.0,1022.0 L1541.1,1023.6 L1542.3,1025.3 L1543.4,1026.9 L1544.6,1028.6 L1545.8,1030.2 L1546.9,1031.8 L1548.1,1033.4 L1549.3,1035.0 L1550.5,1036.7 L1551.7,1038.3 L1553.0,1039.9 L1554.2,1041.5 L1555.4,1043.1 L1556.7,1044.6 L1557.9,1046.2 L1559.2,1047.8 L1560.5,1049.4 L1561.7,1051.0 L1563.0,1052.5 L1564.3,1054.1 L1565.6,1055.6 L1566.9,1057.2 L1568.2,1058.7 L1569.5,1060.3 L1570.8,1061.8 L1572.2,1063.4 L1573.5,1064.9 L1574.8,1066.4 L1576.2,1067.9 L1577.5,1069.4 L1578.9,1070.9 L1580.2,1072.4 L1581.6,1073.9 L1582.9,1075.4 L1584.3,1076.9 L1585.7,1078.4 L1587.0,1079.9 L1588.4,1081.3 L1589.8,1082.8 L1591.2,1084.3 L1592.6,1085.7 L1593.9,1087.2 L1595.3,1088.6 L1596.7,1090.0 L1598.1,1091.5 L1599.5,1092.9 L1600.9,1094.3 L1602.3,1095.7 L1603.7,1097.1 L1605.2,1098.5 L1606.6,1099.9 L1608.0,1101.3 L1609.4,1102.7 L1610.8,1104.1 L1612.3,1105.5 L1613.7,1106.9 L1615.1,1108.2 L1616.6,1109.6 L1618.0,1111.0 L1619.4,1112.3 L1620.9,1113.7 L1622.3,1115.0 L1623.8,1116.4 L1625.2,1117.7 L1626.7,1119.0 L1628.2,1120.4 L1629.6,1121.7 L1631.1,1123.0 L1632.6,1124.3 L1634.0,1125.7 L1635.5,1127.0 L1637.0,1128.3 L1638.5,1129.6 L1640.0,1130.9 L1641.5,1132.2 L1643.0,1133.5 L1644.5,1134.8 L1646.0,1136.1 L1647.5,1137.4 L1649.0,1138.6 L1650.5,1139.9 L1652.0,1141.2 L1653.6,1142.5 L1655.1,1143.7 L1656.6,1145.0 L1658.1,1146.3 L1659.7,1147.5 L1661.2,1148.8 L1662.8,1150.1 L1664.3,1151.3 L1665.9,1152.6 L1667.4,1153.8 L1669.0,1155.1 L1670.6,1156.3 L1672.1,1157.6 L1673.7,1158.8 L1675.3,1160.1 L1676.8,1161.3 L1678.4,1162.5 L1680.0,1163.8 L1681.6,1165.0 L1683.2,1166.2 L1684.8,1167.5 L1686.4,1168.7 L1688.0,1169.9 L1689.6,1171.1 L1691.2,1172.3 L1692.9,1173.5 L1694.5,1174.8 L1696.1,1176.0 L1697.7,1177.2 L1699.4,1178.3 L1701.0,1179.5 L1702.7,1180.7 L1704.3,1181.9 L1706.0,1183.1 L1707.6,1184.2 L1709.3,1185.4 L1710.9,1186.5 L1712.6,1187.7 L1714.3,1188.8 L1716.0,1190.0 L1717.7,1191.1 L1719.3,1192.2 L1721.0,1193.3 L1722.7,1194.4 L1724.4,1195.5 L1726.1,1196.6 L1727.8,1197.6 L1729.6,1198.7 L1731.3,1199.8 L1733.0,1200.8 L1734.7,1201.8 L1736.5,1202.9 L1738.2,1203.9 L1739.9,1204.9 L1741.7,1205.9 L1743.4,1206.8 L1745.2,1207.8 L1746.9,1208.8 L1748.7,1209.7 L1750.5,1210.6 L1752.3,1211.6 L1754.0,1212.5 L1755.8,1213.4 L1757.6,1214.2 L1759.4,1215.1 L1761.2,1216.0 L1763.0,1216.8 L1764.8,1217.6 L1766.6,1218.4 L1768.4,1219.2 L1770.3,1220.0 L1772.1,1220.8 L1773.9,1221.5 L1775.7,1222.3 L1777.6,1223.0 L1779.4,1223.7 L1781.3,1224.4 L1783.1,1225.1 L1785.0,1225.7 L1786.9,1226.4 L1788.7,1227.0 L1790.6,1227.6 L1792.5,1228.2 L1794.3,1228.8 L1796.2,1229.4 L1798.1,1229.9 L1800.0,1230.5 L1801.9,1231.0 L1803.8,1231.5 L1805.7,1232.0 L1807.6,1232.5 L1809.5,1232.9 L1811.4,1233.4 L1813.4,1233.8 L1815.3,1234.2 L1817.2,1234.6 L1819.1,1235.0 L1821.1,1235.4 L1823.0,1235.8 L1824.9,1236.1 L1826.9,1236.5 L1828.8,1236.8 L1830.8,1237.1 L1832.7,1237.5 L1834.7,1237.8 L1836.6,1238.0 L1838.6,1238.3 L1840.5,1238.6 L1842.5,1238.9 L1844.5,1239.2 L1846.4,1239.4 L1848.4,1239.7 L1850.4,1239.9 L1852.4,1240.2 L1854.3,1240.4 L1856.3,1240.6 L1858.3,1240.9 L1860.3,1241.1 L1862.3,1241.4 L1864.3,1241.6 L1866.2,1241.8 L1868.2,1242.1 L1870.2,1242.3 L1872.2,1242.5 L1874.2,1242.8 L1876.2,1243.0 L1878.2,1243.3 L1880.2,1243.5 L1882.2,1243.8 L1884.2,1244.0 L1886.2,1244.3 L1888.2,1244.5 L1890.2,1244.8 L1892.3,1245.0 L1894.3,1245.3 L1896.3,1245.5 L1898.3,1245.8 L1900.3,1246.1 L1902.3,1246.3 L1904.3,1246.6 L1906.3,1246.8 L1908.4,1247.1 L1910.4,1247.3 L1912.4,1247.6 L1914.4,1247.9 L1916.4,1248.1 L1918.4,1248.4 L1920.5,1248.6 L1922.5,1248.9 L1924.5,1249.1 L1926.5,1249.4 L1928.5,1249.6 L1930.5,1249.8 L1932.6,1250.1 L1934.6,1250.3 L1936.6,1250.5 L1938.6,1250.8 L1940.6,1251.0 L1942.6,1251.2 L1944.7,1251.4 L1946.7,1251.6 L1948.7,1251.8 L1950.7,1252.0 L1952.7,1252.2 L1954.7,1252.4 L1956.7,1252.6 L1958.7,1252.8 L1960.7,1253.0 L1962.8,1253.2 L1964.8,1253.3 L1966.8,1253.5 L1968.8,1253.6 L1970.8,1253.8 L1972.8,1253.9 L1974.8,1254.0 L1976.8,1254.2 L1978.8,1254.3 L1980.8,1254.4 L1982.8,1254.5 L1984.7,1254.6 L1986.7,1254.7 L1988.7,1254.8 L1990.7,1254.8 L1992.7,1254.9 L1994.7,1255.0 L1996.7,1255.0 L1998.6,1255.0 L2000.6,1255.1 L2002.6,1255.1 L2004.6,1255.1 L2006.5,1255.1 L2008.5,1255.1 L2010.5,1255.0 L2012.4,1255.0 L2014.4,1255.0 L2016.3,1254.9 L2018.3,1254.8 L2020.2,1254.8 L2022.2,1254.7 L2024.0,1254.6" stroke="#B079DF"/>
</g>
<g fill="#000">
<rect x="253.5" y="47.2" width="4.5" height="1433.3"/>
<rect x="2026.2" y="47.2" width="4.6" height="1433.4"/>
<rect x="253.5" y="47.2" width="1779.5" height="4.6"/>
<rect x="253.5" y="1473.8" width="1779.5" height="4.3"/>
<rect x="450.3" y="1448" width="4.7" height="27"/>
<rect x="713.0" y="1448" width="4.7" height="27"/>
<rect x="975.6" y="1448" width="4.7" height="27"/>
<rect x="1238.2" y="1448" width="4.7" height="27"/>
<rect x="1500.9" y="1448" width="4.7" height="27"/>
<rect x="1763.5" y="1448" width="4.7" height="27"/>
<rect x="319.0" y="1462" width="4.7" height="13"/>
<rect x="581.6" y="1462" width="4.7" height="13"/>
<rect x="844.3" y="1462" width="4.7" height="13"/>
<rect x="1106.9" y="1462" width="4.7" height="13"/>
<rect x="1369.6" y="1462" width="4.7" height="13"/>
<rect x="1632.2" y="1462" width="4.7" height="13"/>
<rect x="1894.8" y="1462" width="4.7" height="13"/>
<rect x="257" y="1282.0" width="27" height="4.35"/>
<rect x="257" y="1092.1" width="27" height="4.35"/>
<rect x="257" y="902.2" width="27" height="4.35"/>
<rect x="257" y="712.3" width="27" height="4.35"/>
<rect x="257" y="522.4" width="27" height="4.35"/>
<rect x="257" y="332.4" width="27" height="4.35"/>
<rect x="257" y="140.8" width="27" height="4.35"/>
<rect x="257" y="1377.0" width="13" height="4.35"/>
<rect x="257" y="1187.1" width="13" height="4.35"/>
<rect x="257" y="997.2" width="13" height="4.35"/>
<rect x="257" y="807.2" width="13" height="4.35"/>
<rect x="257" y="617.3" width="13" height="4.35"/>
<rect x="257" y="427.4" width="13" height="4.35"/>
<rect x="257" y="236.6" width="13" height="4.35"/>
</g>
<text x="453.4" y="1549.5" text-anchor="middle" class="n">100</text>
<text x="716.1" y="1549.5" text-anchor="middle" class="n">200</text>
<text x="978.7" y="1549.5" text-anchor="middle" class="n">300</text>
<text x="1241.3" y="1549.5" text-anchor="middle" class="n">400</text>
<text x="1504.0" y="1549.5" text-anchor="middle" class="n">500</text>
<text x="1766.6" y="1549.5" text-anchor="middle" class="n">600</text>
<text x="2029.2" y="1549.5" text-anchor="middle" class="n">700</text>
<text x="226.8" y="1491.7" text-anchor="end" class="n">30</text>
<text x="226.8" y="1301.6" text-anchor="end" class="n">40</text>
<text x="226.8" y="1113.2" text-anchor="end" class="n">50</text>
<text x="226.8" y="921.0" text-anchor="end" class="n">60</text>
<text x="226.8" y="730.8" text-anchor="end" class="n">70</text>
<text x="226.8" y="540.2" text-anchor="end" class="n">80</text>
<text x="226.8" y="350.6" text-anchor="end" class="n">90</text>
<text x="226.8" y="161.1" text-anchor="end" class="n">100</text>

<rect x="1743.9" y="95.1" width="231.8" height="392.6" fill="none" stroke="#000" stroke-width="2.3"/>
<rect x="1752" y="133.90" width="140.6" height="7" fill="#505050"/>
<rect x="1750" y="136.20" width="145" height="2.4" fill="#505050"/>
<text x="1904.5" y="156.9" class="b">7</text>
<rect x="1752" y="210.98" width="140.6" height="7" fill="#EF4040"/>
<rect x="1750" y="213.28" width="145" height="2.4" fill="#EF4040"/>
<text x="1904.8" y="234.3" class="b">4</text>
<rect x="1752" y="288.06" width="140.6" height="7" fill="#1A70DF"/>
<rect x="1750" y="290.36" width="145" height="2.4" fill="#1A70DF"/>
<text x="1904.3" y="311.6" class="b">11</text>
<rect x="1752" y="365.14" width="140.6" height="7" fill="#38AE6C"/>
<rect x="1750" y="367.44" width="145" height="2.4" fill="#38AE6C"/>
<text x="1904.3" y="386.1" class="b">13</text>
<rect x="1752" y="442.22" width="140.6" height="7" fill="#B079DF"/>
<rect x="1750" y="444.52" width="145" height="2.4" fill="#B079DF"/>
<text x="1904.3" y="463.2" class="b">14</text>

<text class="xt" x="1169.3" y="1630" text-anchor="middle">Temperature (°C)</text>
<text class="yt" transform="translate(126.5,766.3) rotate(-90)" text-anchor="middle">Weight lost (%)</text>
</svg>
</body></html>
